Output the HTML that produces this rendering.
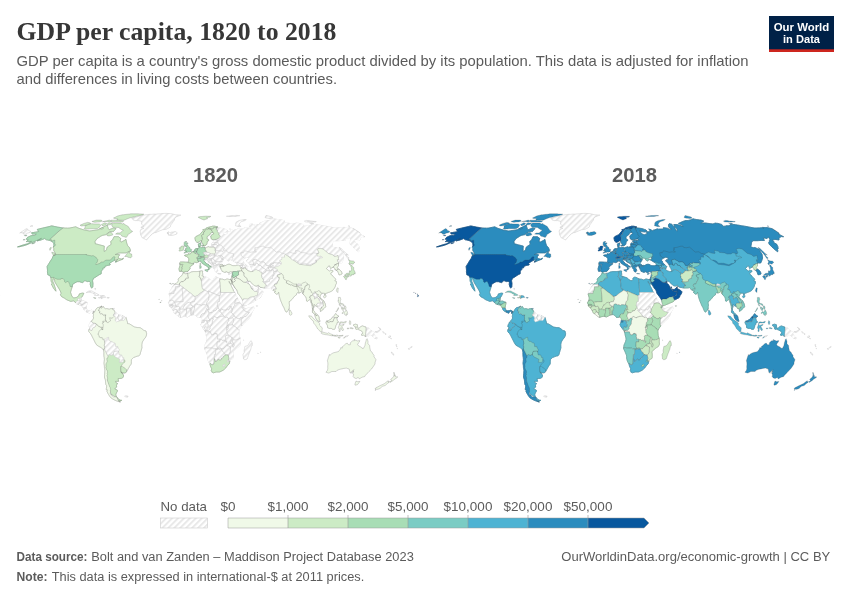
<!DOCTYPE html>
<html lang="en">
<head>
<meta charset="utf-8">
<title>GDP per capita, 1820 to 2018</title>
<style>
html,body{margin:0;padding:0;background:#fff;}
body{width:850px;height:600px;overflow:hidden;position:relative;font-family:"Liberation Sans",sans-serif;}
svg{position:absolute;left:0;top:0;display:block;}
text{font-family:"Liberation Sans",sans-serif;}
.title{font-family:"Liberation Serif",serif;font-weight:bold;font-size:26px;fill:#373737;}
.sub{font-size:14.5px;fill:#5b5b5b;}
.foot{font-size:12.5px;fill:#5b5b5b;}
.leg{font-size:13px;fill:#5b5b5b;}
.yr{font-size:20.3px;font-weight:bold;fill:#5b5b5b;}
.logo{font-size:11.5px;font-weight:bold;fill:#fff;}
.c use{stroke:#3c3c3c;stroke-width:0.5;stroke-opacity:0.4;stroke-linejoin:round;}
.c use.n{fill:url(#hatch);stroke:#c8c8c8;stroke-width:0.5;stroke-opacity:1;}
</style>
</head>
<body>
<svg width="850" height="600" viewBox="0 0 850 600">
<defs>
<pattern id="hatch" patternUnits="userSpaceOnUse" width="4.2" height="4.2" patternTransform="rotate(45)">
<rect width="4.2" height="4.2" fill="#fff"/>
<rect x="0" y="0" width="1.9" height="4.2" fill="#e8e8e8"/>
</pattern>
<path id="L" d="M179.5,271.3L179.0,268.9L179.5,267.1L180.0,265.4L179.5,262.9L180.6,262.0L182.0,262.0L183.5,262.0L184.6,262.1L185.7,262.2L188.0,262.3L188.3,262.0L188.7,260.6L188.8,259.2L188.7,258.4L187.6,257.0L186.1,256.3L184.8,255.9L184.7,255.2L186.7,254.8L187.8,255.1L188.3,253.7L188.6,253.6L188.8,254.1L190.1,253.9L191.1,253.3L191.9,251.9L192.7,251.7L193.8,251.3L194.5,250.3L195.1,249.1L196.3,248.6L197.4,248.6L198.4,248.3L199.2,247.9L199.0,247.2L198.7,246.4L198.5,245.7L198.3,244.4L198.8,243.6L199.8,243.2L200.8,242.8L200.8,243.8L200.6,244.8L200.2,245.7L199.9,246.4L200.2,246.7L200.7,247.2L201.5,247.7L202.6,247.5L204.1,247.1L205.1,247.9L206.8,247.3L207.8,247.0L208.8,246.7L209.6,247.2L210.9,246.8L211.8,246.0L211.9,245.5L211.6,244.4L212.0,243.2L213.0,242.8L214.6,243.8L214.8,241.9L213.7,241.5L213.6,240.9L214.9,240.5L216.5,240.5L218.1,240.5L219.1,240.2L220.2,240.0L218.4,238.9L216.8,239.2L215.9,239.4L214.9,239.6L213.9,239.8L213.0,240.1L212.1,239.3L211.0,238.5L211.1,237.9L210.8,235.9L212.1,234.7L213.1,234.1L214.1,233.5L212.8,232.5L211.9,232.6L210.9,232.7L210.2,233.8L209.5,235.0L207.9,236.0L207.0,236.7L207.0,238.9L208.8,239.8L208.6,240.7L207.2,241.6L207.0,243.1L206.8,244.3L206.1,244.9L204.9,245.7L203.5,245.9L203.1,245.1L203.2,244.1L202.1,242.8L201.3,241.3L200.7,240.7L199.6,241.4L198.1,242.3L197.1,242.4L195.6,241.1L195.2,239.3L194.9,237.9L195.8,236.6L197.0,236.0L198.2,235.4L199.6,234.7L200.9,233.5L201.7,232.2L203.3,230.6L202.8,229.6L204.0,229.4L205.1,229.2L205.9,228.5L206.7,227.8L207.7,227.5L208.8,227.2L210.0,226.9L211.1,226.6L212.0,226.4L212.8,226.1L213.8,226.2L214.8,226.2L216.3,226.6L217.7,226.9L216.9,227.2L216.0,227.4L217.0,227.6L218.4,227.9L219.8,228.1L221.2,228.3L222.7,228.5L224.0,228.9L225.4,229.4L226.7,229.8L228.1,231.0L228.3,231.6L226.9,231.8L225.6,232.0L224.1,231.8L222.7,231.6L221.4,231.3L220.2,230.9L222.0,232.5L223.2,234.1L224.3,234.4L225.5,234.7L226.3,234.3L227.2,234.2L228.1,234.0L227.6,232.5L228.5,232.1L229.3,231.7L230.2,231.7L231.1,231.6L230.7,229.8L229.7,229.1L231.0,229.4L232.3,229.8L233.2,231.0L234.2,230.2L235.1,230.0L235.9,229.8L237.1,229.3L238.2,228.8L239.3,229.2L240.7,229.1L242.0,229.1L243.3,229.0L244.6,228.8L244.4,227.6L245.7,227.8L247.1,228.0L248.4,228.2L249.6,228.8L250.9,229.4L251.7,229.3L252.6,229.2L250.5,228.0L249.4,226.2L249.6,224.5L250.3,223.6L251.5,223.9L252.8,224.2L253.9,225.7L254.9,226.8L255.9,228.0L256.6,229.8L257.9,231.3L258.3,230.4L257.7,228.6L255.6,226.8L255.2,225.7L254.8,224.5L255.9,224.5L257.0,224.5L257.9,224.6L258.9,224.7L260.0,225.0L261.1,225.3L262.6,226.1L264.1,226.8L263.3,225.3L261.4,224.3L259.5,223.4L260.5,222.9L261.4,222.5L262.3,222.1L263.2,221.7L264.2,221.3L265.2,221.0L266.2,220.6L267.3,220.5L268.3,220.5L269.3,220.4L270.2,220.2L271.0,220.0L271.9,219.8L272.6,219.4L273.4,219.1L274.2,218.8L275.7,219.2L277.3,219.5L278.9,219.7L280.5,219.9L282.1,220.1L284.7,221.1L284.0,221.7L283.2,222.2L282.5,222.8L281.9,223.4L283.0,223.2L284.1,223.0L285.3,223.0L286.6,223.0L288.4,223.3L290.1,223.5L291.9,223.7L293.7,223.9L294.5,223.7L295.4,223.4L296.2,223.1L297.6,223.3L299.0,223.4L300.8,223.9L302.7,224.5L304.4,226.2L305.3,226.2L306.2,226.2L306.7,225.9L307.2,225.7L308.5,225.7L309.8,225.7L310.6,225.3L311.4,224.8L311.7,224.2L313.3,224.4L314.9,224.5L316.5,224.7L318.4,225.0L320.3,225.3L322.2,225.7L323.9,225.9L325.7,226.2L327.8,226.6L329.9,227.0L332.0,227.4L334.1,227.8L335.8,228.0L337.3,228.0L338.7,227.9L340.2,227.9L341.7,227.8L343.1,227.8L344.8,228.6L343.5,227.4L345.1,227.5L346.7,227.6L348.4,227.6L350.0,228.0L351.8,228.3L353.5,228.6L356.9,230.8L360.3,233.1L359.9,233.5L359.5,233.8L359.0,233.8L362.1,235.4L364.7,236.7L363.5,236.7L362.3,236.6L361.5,237.1L360.6,237.5L360.3,238.0L360.0,238.5L360.0,240.0L358.1,239.7L356.1,239.4L355.4,239.6L354.6,239.8L353.4,240.1L354.9,241.8L354.9,242.7L357.6,244.1L358.1,245.1L358.8,246.4L359.2,248.7L358.2,249.1L358.8,250.4L358.7,251.8L356.0,249.8L354.5,248.4L353.0,247.1L351.7,245.7L350.3,244.4L349.6,242.7L350.3,241.8L350.4,240.5L350.9,239.4L350.2,238.2L349.5,236.9L348.8,237.7L348.1,238.5L346.2,238.2L344.2,237.8L344.8,239.1L345.4,240.5L344.0,240.5L342.6,240.5L341.1,240.5L339.9,240.6L338.6,240.7L337.1,240.7L335.6,240.7L333.8,240.7L333.2,241.7L332.5,242.7L332.4,243.9L332.2,245.1L332.0,245.9L331.7,246.8L333.1,247.3L334.6,247.7L335.9,247.5L338.7,248.8L339.8,249.1L341.1,250.4L341.0,251.1L342.1,252.8L343.1,254.5L343.4,256.3L343.6,258.0L343.2,259.4L342.7,260.8L342.3,261.8L341.8,262.9L340.8,263.1L339.3,262.7L338.6,263.8L338.3,265.0L338.7,265.9L337.9,266.6L337.0,267.3L337.2,268.2L338.8,269.0L341.1,271.3L341.9,272.7L342.0,274.0L340.4,274.7L339.0,274.8L338.3,272.7L337.8,271.3L336.1,270.3L335.1,269.9L335.0,268.5L333.3,267.2L331.9,267.6L330.7,268.7L330.1,267.1L329.9,266.1L328.7,265.8L327.8,267.2L326.3,268.5L328.5,270.4L329.5,271.1L330.5,270.2L331.4,270.4L332.9,270.7L333.0,271.6L332.1,272.1L331.2,272.7L330.5,274.1L332.1,275.1L333.5,276.9L335.4,278.8L335.7,279.8L334.7,280.8L336.3,281.3L336.5,283.3L335.9,284.1L335.1,286.8L333.8,289.0L332.4,290.7L331.0,291.4L329.5,292.1L328.7,292.3L326.8,293.1L325.3,293.6L325.3,294.9L324.6,294.8L324.4,293.2L323.4,293.2L322.2,293.2L320.9,294.3L320.0,296.3L320.1,297.2L321.2,298.6L322.9,300.3L323.7,300.8L324.9,303.1L325.5,305.2L325.7,306.8L324.5,308.0L323.1,309.0L322.7,310.0L320.4,311.4L320.4,309.6L319.9,308.9L318.6,308.6L317.9,307.3L317.3,306.6L315.2,305.6L314.5,304.5L313.9,304.8L314.1,306.6L313.4,308.3L313.5,310.4L314.5,311.6L315.3,313.4L316.7,314.0L317.5,314.8L319.0,316.8L319.1,318.7L319.6,320.1L320.1,321.6L319.6,321.8L319.1,321.6L317.6,320.5L316.5,319.4L315.5,317.7L315.1,316.0L314.9,314.5L314.2,313.8L313.6,313.0L312.4,312.4L312.3,310.9L312.6,309.5L312.3,307.3L312.2,306.1L311.5,303.8L310.7,301.7L310.4,300.3L309.9,299.6L308.7,300.1L307.7,301.3L306.5,301.0L306.4,298.9L305.9,297.0L304.0,295.2L302.6,293.3L302.2,292.1L301.4,291.6L300.6,292.5L299.5,292.8L298.3,292.9L297.6,292.6L296.8,293.2L296.5,294.3L296.3,295.0L295.3,295.6L294.4,296.3L292.6,298.6L291.5,299.7L290.3,301.1L289.1,301.7L289.2,303.8L289.5,305.1L289.2,306.6L289.2,309.0L288.6,309.0L288.3,310.4L287.3,311.0L286.6,312.2L285.7,311.6L284.7,309.5L284.1,307.8L282.7,305.4L282.0,303.6L281.2,301.8L280.4,299.6L279.9,298.1L279.5,296.7L279.1,294.6L279.0,293.8L278.7,292.2L278.3,292.9L277.6,294.0L277.0,294.3L276.1,294.0L275.1,293.1L274.3,292.1L275.8,291.2L273.9,290.8L273.1,290.1L272.2,289.8L271.5,288.5L270.7,287.7L268.5,288.0L267.1,288.0L265.7,288.1L264.8,288.0L263.6,287.8L261.9,287.5L260.1,287.3L259.0,285.7L258.1,285.1L256.4,286.1L254.8,285.8L253.4,284.7L251.1,282.7L250.1,281.2L248.6,281.2L247.7,282.0L248.3,283.3L249.6,285.0L250.1,285.4L250.8,286.3L250.9,287.4L251.8,288.7L251.7,287.5L252.1,286.7L252.6,287.0L252.7,288.5L252.4,289.2L253.9,289.4L255.1,289.5L256.2,289.0L257.2,287.8L257.9,287.1L258.2,286.4L258.5,288.1L259.0,289.1L261.4,290.2L263.0,291.8L262.6,293.3L261.8,294.8L260.8,295.7L260.9,296.9L259.6,298.1L258.0,298.7L256.7,299.6L255.4,300.1L254.5,301.5L253.1,302.2L250.8,303.1L249.3,303.8L247.0,304.7L245.8,305.5L243.9,305.6L243.5,304.8L243.1,302.7L242.7,300.6L242.4,299.7L241.5,298.3L240.6,296.9L239.1,294.9L237.8,293.2L237.4,291.6L236.9,289.9L236.3,289.5L235.2,288.2L234.2,286.6L232.9,284.6L232.0,284.0L232.0,281.9L230.8,279.3L231.3,278.3L231.6,277.2L232.0,275.7L232.2,274.8L232.1,273.4L232.3,271.8L230.9,271.7L230.4,271.6L228.5,272.7L227.2,272.1L225.9,271.4L225.6,272.3L224.2,272.3L223.1,271.6L222.0,271.3L221.7,270.0L221.1,269.3L221.0,268.0L220.1,267.8L220.2,267.1L221.6,266.5L223.3,266.5L224.3,266.1L223.3,265.7L224.3,265.4L225.9,265.5L226.3,265.0L227.9,264.3L230.0,264.3L231.5,265.2L232.9,265.7L234.2,265.7L235.5,265.7L237.5,264.8L237.5,264.0L236.4,262.9L234.8,262.0L232.4,260.5L231.0,259.7L231.8,259.5L232.3,258.7L232.4,257.7L233.4,257.0L233.0,257.0L231.4,257.2L230.8,257.7L229.2,258.3L228.7,258.4L229.3,259.4L230.8,259.5L229.6,260.1L228.4,260.9L227.6,260.6L226.3,259.5L227.5,258.5L225.8,258.5L224.9,257.9L224.1,258.0L223.2,259.8L222.3,261.2L221.6,262.6L221.2,263.6L221.9,264.4L223.2,265.2L223.1,265.7L221.5,265.7L220.1,266.9L219.8,266.2L219.7,265.9L218.0,265.8L217.6,267.1L216.4,266.6L216.3,266.2L216.0,267.1L216.6,268.0L217.0,268.9L217.6,270.0L217.9,270.3L217.0,270.0L217.1,270.9L217.0,272.0L216.3,272.0L215.4,271.6L214.8,270.3L215.2,269.5L214.5,269.3L213.9,268.5L213.2,267.5L213.0,267.2L212.3,266.4L212.2,265.2L212.1,264.4L211.7,264.1L211.0,263.7L210.6,263.4L208.5,262.2L207.1,261.3L206.7,260.1L206.1,259.7L205.5,260.3L205.2,259.4L205.4,259.1L203.7,259.5L204.0,260.2L203.8,260.9L204.2,261.3L205.2,262.0L206.1,263.6L207.3,264.0L208.5,264.4L208.3,265.1L209.3,265.5L210.7,266.2L211.3,266.9L211.2,267.3L210.7,267.1L209.8,266.4L209.1,267.5L209.8,268.3L209.1,269.3L208.6,270.0L208.1,269.7L208.3,268.9L208.7,268.0L208.0,267.1L207.0,266.2L206.3,265.9L205.6,265.4L203.9,264.5L203.4,264.1L202.5,263.6L201.9,262.9L201.6,262.2L201.0,261.3L200.0,260.9L199.6,261.0L199.0,261.6L198.2,261.9L196.7,262.7L196.1,262.4L195.2,262.3L194.4,262.2L193.5,262.9L193.4,263.6L193.8,263.8L192.5,265.1L191.4,265.5L191.0,266.1L189.7,267.8L190.2,268.9L189.4,269.5L188.8,270.4L187.4,271.7L187.1,271.6L184.9,271.7L183.8,272.6L183.4,272.7L182.6,272.0L181.8,271.0L180.8,271.3ZM183.1,273.0L183.8,272.8L185.3,273.8L186.6,273.7L187.9,273.4L189.3,273.1L191.2,272.0L192.4,271.8L193.6,271.6L196.0,271.6L197.5,271.5L199.1,271.4L200.3,271.1L201.5,270.9L202.8,271.1L202.4,272.1L202.6,273.0L202.7,274.5L201.9,275.7L203.0,276.1L204.3,276.6L205.7,277.1L208.0,277.8L209.8,279.5L211.6,280.5L213.0,280.8L213.9,279.8L213.9,278.2L215.5,277.1L216.8,277.2L218.6,278.2L220.1,278.9L221.3,279.1L222.5,279.2L224.6,279.9L225.7,279.5L227.0,278.9L228.6,279.3L230.0,279.6L230.8,279.3L231.9,281.9L231.8,282.9L231.4,284.3L230.5,283.6L229.7,282.6L229.0,281.2L229.3,282.6L230.9,285.1L231.6,286.7L232.4,288.2L233.2,289.7L233.4,291.1L234.7,292.2L235.6,293.9L235.7,295.9L236.0,296.6L237.4,298.1L238.1,300.3L238.8,301.5L240.1,302.7L241.6,304.1L242.9,305.2L243.7,306.1L243.6,307.2L244.0,307.6L245.9,308.9L247.2,308.4L248.4,307.9L249.7,307.8L251.1,307.6L252.4,307.3L253.7,306.9L253.9,308.9L253.2,310.2L252.0,312.3L251.1,314.4L250.5,316.1L248.7,318.7L246.6,320.8L245.0,322.2L243.1,324.2L242.0,326.0L241.1,326.9L240.1,328.1L239.5,329.4L238.8,330.8L239.0,333.2L239.2,335.6L240.0,338.2L240.4,338.7L240.3,340.4L240.2,342.0L240.5,344.1L239.3,346.5L237.4,347.7L235.6,348.9L234.6,350.2L232.8,351.6L233.2,354.0L233.2,355.7L233.2,357.4L232.9,358.4L231.4,359.3L229.9,360.2L229.8,361.6L229.2,363.8L227.2,365.9L225.8,367.9L224.5,369.1L223.1,370.3L221.7,371.0L220.3,371.7L219.3,372.0L217.7,372.0L216.1,372.0L214.8,372.4L213.6,372.8L211.8,372.1L211.8,371.5L211.2,370.3L211.8,368.9L210.7,366.7L209.9,364.0L209.1,362.6L208.4,361.2L208.0,359.7L207.6,358.2L207.7,356.0L207.1,354.3L206.4,352.6L205.8,351.2L205.1,349.8L204.5,348.1L204.8,346.6L205.0,345.1L205.8,343.3L206.6,341.4L207.1,339.2L206.8,337.6L206.4,336.0L205.9,333.5L205.3,332.1L205.2,331.4L204.7,330.4L203.7,329.0L202.0,326.9L200.9,324.6L201.7,323.0L202.0,322.0L202.2,320.9L202.4,319.5L202.0,318.1L201.1,317.2L200.4,317.1L198.7,317.4L197.5,317.5L196.6,316.1L194.2,314.5L193.0,314.7L191.5,315.0L189.8,315.8L187.4,317.0L185.0,316.2L183.8,316.5L182.5,316.7L180.4,317.4L178.8,316.5L176.5,314.7L175.7,313.8L174.4,313.1L173.6,311.6L173.0,310.2L171.9,308.8L170.6,306.9L169.3,306.1L169.4,304.7L168.4,302.8L169.6,301.0L170.0,299.5L170.3,298.0L169.7,296.2L169.2,294.2L169.3,293.5L170.0,291.8L170.6,290.1L171.9,288.7L172.4,286.7L173.8,285.1L174.4,284.1L176.1,283.6L177.7,282.0L178.5,280.6L178.2,280.3L178.3,279.1L179.1,277.9L181.0,276.1L182.0,275.5L182.7,273.8ZM31.6,232.7L33.4,232.5L35.2,232.2L36.9,231.9L38.7,231.6L38.2,230.9L37.8,230.2L37.3,229.4L39.7,228.8L42.2,228.2L44.6,227.6L47.0,227.1L49.4,226.5L51.7,225.9L52.9,226.1L54.1,226.4L55.3,226.6L56.4,226.8L57.6,227.1L58.9,227.3L60.2,227.5L61.5,227.7L62.8,227.9L64.1,228.0L65.3,228.1L66.6,228.1L67.8,228.2L68.9,228.1L69.9,228.0L71.9,227.6L73.8,227.2L75.8,226.8L76.5,227.2L77.3,227.6L78.0,228.0L79.2,228.4L80.4,228.8L81.7,229.2L82.9,229.6L84.1,230.0L85.5,230.3L86.9,230.5L88.3,230.8L89.7,231.0L91.4,230.8L93.1,230.5L94.8,230.3L96.5,230.0L98.2,229.8L101.2,228.2L104.2,226.6L107.3,225.1L107.5,226.2L107.9,227.4L108.3,228.6L108.7,229.2L109.2,229.8L111.2,228.9L113.3,228.0L114.6,228.3L116.0,228.6L114.7,230.1L113.4,231.6L112.2,231.6L110.9,231.6L109.7,231.6L107.7,233.2L105.6,234.7L104.0,235.0L102.3,235.4L100.7,236.2L98.9,237.4L97.1,238.5L96.0,240.0L95.0,241.4L95.2,243.8L96.7,244.1L98.2,244.5L99.7,244.9L101.2,245.3L102.8,245.7L104.3,246.1L104.1,248.8L104.1,251.4L105.3,251.1L106.5,249.8L106.8,248.4L107.3,247.1L109.2,245.7L111.2,244.4L111.0,243.0L110.7,241.5L112.7,239.8L113.3,238.3L114.0,236.7L115.4,236.7L116.9,236.7L118.4,236.7L119.6,237.6L120.8,238.5L120.4,239.8L120.0,241.1L121.0,242.2L122.7,241.3L124.3,240.5L125.9,239.3L126.3,241.2L126.7,243.1L127.2,244.4L127.7,245.7L128.6,246.7L129.5,247.7L130.0,249.1L130.5,250.4L128.3,251.7L126.1,252.9L124.3,252.9L122.5,252.9L120.7,252.9L119.3,253.0L117.9,253.2L116.6,253.9L115.2,254.5L116.6,254.5L118.0,254.5L119.7,254.8L118.4,256.6L118.3,258.4L120.1,258.8L122.0,259.2L123.4,258.0L123.1,259.1L120.9,259.9L118.7,260.8L117.1,261.5L115.4,262.2L115.9,260.8L118.0,259.4L116.5,259.7L115.0,260.1L113.6,260.8L112.3,261.5L110.1,262.9L109.3,263.8L110.3,264.3L110.0,265.0L108.8,265.2L107.6,265.4L106.4,265.8L105.1,266.2L104.6,267.8L102.8,268.0L103.0,269.2L101.3,271.1L101.2,273.8L99.1,274.8L97.7,275.7L95.1,277.4L93.5,278.3L92.5,280.8L93.0,283.3L92.9,285.2L92.8,287.1L91.7,288.1L90.8,286.8L90.2,284.3L90.4,282.6L89.3,281.2L87.4,281.6L85.5,280.8L84.6,280.8L82.7,282.6L81.2,282.3L79.5,281.7L78.3,281.7L77.1,281.7L76.1,282.2L74.4,283.2L72.7,284.3L72.1,287.0L71.3,289.6L70.5,292.2L71.2,294.3L71.9,296.4L73.8,298.0L75.3,297.7L76.8,297.3L78.9,295.6L79.3,293.9L80.8,293.5L82.3,293.1L83.8,293.3L82.5,296.0L81.5,297.6L81.0,300.3L80.2,301.3L82.0,301.2L83.8,301.1L85.4,301.8L87.1,302.4L86.8,304.2L86.4,305.9L86.0,308.0L86.8,309.5L88.0,310.9L89.2,310.7L90.5,310.6L91.7,310.2L93.7,311.3L92.9,313.4L92.3,311.6L91.1,311.0L89.7,313.3L88.5,312.7L86.7,312.0L85.8,311.6L84.0,309.9L83.4,308.2L82.5,306.8L81.5,305.4L80.3,305.0L79.1,304.7L77.9,304.2L76.7,303.8L75.9,303.1L73.9,300.8L72.4,301.1L70.8,301.4L68.8,300.6L66.8,299.8L65.6,299.0L64.4,298.1L63.0,297.4L61.6,296.6L60.4,294.8L61.2,293.2L60.2,290.8L58.7,288.2L57.4,286.1L56.1,284.0L54.9,281.9L54.5,279.3L53.2,278.6L52.7,281.2L53.3,282.6L53.9,284.0L54.4,285.4L54.8,286.8L55.6,289.0L55.9,291.2L54.8,289.9L53.8,288.7L52.9,287.0L52.1,285.4L51.3,284.0L52.4,283.3L51.1,281.2L51.0,278.6L50.8,277.6L49.9,275.5L48.9,275.2L47.8,274.8L47.6,273.3L47.4,271.8L47.5,270.2L47.3,268.3L47.1,266.5L48.2,264.7L49.3,262.9L50.7,260.6L52.2,258.4L52.8,256.9L53.4,255.4L55.8,254.1L55.0,252.5L54.4,251.5L53.8,250.4L53.8,248.4L53.3,247.3L53.9,245.7L53.8,244.4L53.7,243.1L53.1,242.4L52.4,241.8L51.2,241.1L50.0,240.5L48.8,240.3L47.6,240.0L46.4,239.8L45.5,239.2L44.8,238.5L42.6,239.4L40.4,240.2L38.8,240.5L37.2,240.9L39.4,239.6L41.6,238.3L39.1,239.4L36.6,240.5L33.7,241.8L30.7,243.1L28.0,244.2L25.3,245.3L23.4,245.8L21.6,246.2L19.7,246.7L17.5,246.9L19.9,246.1L22.2,245.3L24.8,244.5L27.5,243.8L31.6,241.4L30.0,241.5L28.4,241.5L27.3,241.6L26.3,241.6L28.4,239.8L27.3,239.5L26.2,239.2L27.6,237.3L31.0,235.7L32.9,235.5L34.8,235.4L36.4,234.1L35.0,234.1L33.6,234.1L32.2,234.1L31.9,233.4ZM93.7,311.3L94.4,312.3L95.1,310.9L96.2,308.9L97.1,307.9L97.9,307.6L99.5,307.2L101.6,306.1L101.5,306.9L100.7,307.2L101.0,308.2L101.8,308.0L102.8,307.2L103.1,306.3L103.5,307.3L105.5,308.8L106.9,308.6L109.2,309.3L110.2,308.8L111.6,308.6L113.0,308.5L112.3,309.2L114.1,310.2L114.7,311.6L116.1,312.8L117.5,314.0L118.9,315.1L121.2,315.3L123.0,316.0L124.8,316.7L125.6,317.7L126.1,317.4L126.5,319.1L126.9,320.8L127.5,322.2L127.5,323.6L129.4,323.9L130.3,324.4L132.5,325.8L134.7,327.1L136.1,327.3L137.6,327.6L138.8,327.6L140.1,327.7L141.9,328.8L143.8,330.4L146.0,331.0L146.6,333.6L146.5,335.1L145.6,337.3L144.0,339.2L143.2,340.6L142.3,342.0L141.8,344.5L141.8,346.1L141.9,347.6L141.7,348.6L141.1,350.5L140.6,352.3L139.9,354.7L138.7,356.0L137.3,356.1L135.4,356.8L133.6,357.5L132.5,358.6L131.4,359.7L131.3,361.1L131.3,362.6L131.2,364.0L129.7,366.0L128.8,367.7L128.0,369.1L126.8,371.3L125.3,373.0L123.8,373.0L121.8,372.4L121.0,371.7L121.1,372.5L122.8,373.8L122.9,374.8L123.6,375.1L123.2,377.3L121.6,378.3L119.8,378.5L118.0,378.6L118.3,380.1L118.6,381.3L117.0,381.3L115.5,381.3L116.0,382.9L117.7,383.6L116.9,384.2L116.4,385.0L116.7,387.1L115.8,387.8L114.8,388.4L115.1,389.2L117.2,390.0L117.5,391.0L116.4,392.9L115.8,394.3L116.1,396.2L117.1,397.2L117.6,398.1L118.7,399.2L120.3,400.1L121.8,400.3L120.7,400.9L119.7,401.0L118.7,401.2L120.3,402.0L119.0,401.7L117.8,401.3L116.5,400.8L115.2,400.3L113.1,399.2L110.9,397.8L109.6,396.1L108.7,394.7L107.9,393.3L106.8,391.0L107.6,389.9L106.2,389.5L106.6,387.1L106.7,385.7L106.0,384.8L105.6,382.7L105.5,381.5L105.4,379.9L104.5,377.3L104.5,375.6L104.7,373.8L104.8,372.0L104.9,370.3L104.7,368.9L104.4,367.4L104.4,365.9L104.0,363.2L104.2,361.8L104.4,359.5L104.2,357.0L104.0,356.3L103.9,354.2L103.9,352.2L103.5,349.8L102.2,348.5L101.1,347.6L98.6,346.2L96.9,345.2L95.5,343.1L94.3,340.7L93.3,338.7L92.2,336.5L91.5,335.1L90.4,333.4L88.9,331.9L88.7,330.8L88.6,330.2L89.5,328.5L90.2,327.4L89.7,327.3L88.8,326.7L89.1,324.9L89.9,323.6L90.4,322.2L91.6,321.1L92.6,319.9L93.6,318.1L93.3,316.5L93.4,315.8L93.5,314.4L92.9,313.4ZM326.9,320.6L327.8,321.2L329.1,320.2L331.1,319.1L332.2,317.4L333.4,316.5L334.6,315.1L335.5,313.7L336.7,314.5L337.3,315.4L338.7,316.1L337.6,317.4L337.1,317.7L336.8,318.7L337.4,320.5L338.6,322.2L337.1,322.5L336.8,324.3L335.9,325.4L335.5,327.1L335.0,328.5L334.6,329.3L332.9,329.4L331.1,328.3L329.6,328.5L327.6,327.7L327.4,325.4L326.4,323.6L326.0,322.2ZM353.6,324.7L355.5,324.2L357.4,324.7L357.6,327.1L357.9,328.3L359.2,328.3L360.5,326.7L362.4,325.9L364.0,326.5L365.7,327.1L366.1,327.3L367.7,327.9L369.3,328.5L370.6,329.8L371.9,331.0L373.1,331.8L374.4,332.7L373.2,333.1L374.3,334.9L375.4,336.3L376.5,337.7L377.6,338.2L376.4,338.7L374.6,338.0L373.1,337.0L371.8,335.3L370.0,334.5L368.7,335.3L368.2,336.5L366.8,336.5L365.4,336.5L363.7,335.1L361.8,335.5L361.5,334.1L363.0,333.2L362.1,331.4L360.9,330.7L359.7,330.1L358.5,329.6L357.2,329.1L356.0,329.4L355.2,327.7L356.7,327.1L354.8,326.6L353.5,325.6ZM243.0,259.1L243.4,258.7L244.9,258.0L246.4,257.3L247.5,257.4L248.7,257.6L249.4,259.7L247.5,259.7L247.3,260.8L246.5,260.8L247.8,262.0L249.0,263.1L250.2,265.0L251.0,267.1L251.9,268.5L252.7,270.6L253.0,271.3L251.9,271.5L250.8,271.7L248.7,271.0L247.7,270.6L246.7,269.3L247.0,268.0L247.9,266.5L246.8,266.1L245.7,264.5L245.0,264.1L243.8,262.9L243.4,261.2L242.5,260.5Z" fill-rule="evenodd"/>
<path id="c0" d="M71.4,221.7L73.1,221.7L74.8,221.7L76.4,221.7L78.1,221.7L79.7,221.7L81.4,221.7L83.1,221.7L84.7,221.7L86.4,221.7L88.1,221.7L89.7,221.7L91.4,221.7L93.1,221.7L94.7,221.7L96.4,221.7L98.0,221.7L99.7,221.7L101.4,221.7L103.0,221.7L104.7,221.7L106.4,221.7L108.0,221.7L109.7,221.7L111.4,221.7L113.0,221.7L114.7,221.7L116.3,221.7L118.0,221.7L119.7,221.7L121.3,221.7L123.0,221.7L124.7,221.7L126.3,221.7L128.0,221.7L129.7,221.7L131.3,221.7L133.0,221.7L134.6,221.7L136.3,221.7L138.0,221.7L139.6,221.7L141.3,221.7L143.0,221.7L144.6,221.7L146.3,221.7L148.0,221.7L146.8,223.9L145.7,226.1L144.7,228.4L143.7,230.7L142.7,233.1L141.7,235.6L140.8,238.0L139.9,240.5L139.0,243.1L138.1,245.7L137.2,248.3L136.4,250.9L135.7,253.5L135.0,256.2L134.3,258.9L133.7,261.6L133.0,264.3L132.4,267.1L130.2,267.1L127.9,267.1L125.6,267.1L123.3,267.1L121.1,267.1L118.8,267.1L116.5,267.1L114.2,267.1L111.9,267.1L109.7,267.1L107.4,267.1L105.1,267.1L102.8,267.1L100.6,267.1L98.3,267.1L96.0,267.1L93.7,267.1L91.4,267.1L89.2,267.1L86.9,267.1L84.6,267.1L82.3,267.1L80.1,267.1L77.8,267.1L75.5,267.1L73.2,267.1L71.0,267.1L68.7,267.1L66.4,267.1L64.1,267.1L61.8,267.1L59.6,267.1L57.3,267.1L55.0,267.1L52.7,267.1L50.5,267.1L48.2,267.1L45.9,267.1L43.6,267.1L41.3,267.1L39.1,267.1L36.8,267.1L34.5,267.1L32.2,267.1L30.0,267.1L27.7,267.1L29.3,264.3L31.1,261.6L32.9,258.9L34.9,256.2L36.8,253.5L39.0,250.9L41.2,248.3L43.6,245.7L46.1,243.1L48.6,240.5L51.2,238.0L53.9,235.6L56.6,233.1L59.4,230.7L62.2,228.4L65.1,226.1L68.2,223.9Z"/>
<path id="c1" d="M53.3,255.2L55.1,255.4L55.4,254.5L57.5,254.5L59.5,254.5L61.6,254.5L63.6,254.5L65.6,254.5L67.7,254.5L69.7,254.5L71.8,254.5L73.8,254.5L75.9,254.5L77.9,254.5L80.0,254.5L82.0,254.5L84.0,254.5L86.1,254.5L86.4,254.0L86.5,255.0L87.8,255.2L89.1,255.5L90.1,255.6L91.2,255.8L91.7,255.9L93.1,255.5L94.6,256.5L96.1,257.4L96.3,258.0L97.0,258.5L97.8,259.7L97.3,262.0L96.7,262.9L95.4,264.0L96.0,264.7L97.8,264.0L99.1,263.6L100.4,263.1L100.7,262.4L101.2,262.0L103.3,262.0L104.2,261.2L106.0,260.1L108.0,260.1L110.0,260.1L110.9,259.5L111.8,258.7L112.4,257.7L113.7,256.7L114.6,256.8L115.1,257.2L114.4,259.1L114.6,259.8L114.9,260.3L115.8,260.9L116.8,261.5L116.0,264.0L115.3,266.5L114.6,269.1L114.0,271.7L113.4,274.2L112.9,276.8L112.4,279.4L111.9,281.9L111.5,284.5L111.2,287.1L110.8,289.7L108.5,289.7L106.1,289.7L103.7,289.7L101.4,289.7L99.0,289.7L96.7,289.7L94.3,289.7L91.9,289.7L89.6,289.7L87.2,289.7L84.8,289.7L82.5,289.7L80.1,289.7L77.7,289.7L75.4,289.7L73.0,289.7L70.7,289.7L68.6,288.9L66.5,288.1L64.4,287.3L62.4,286.6L60.4,285.8L58.4,285.0L56.4,284.3L54.4,283.5L52.4,282.7L50.4,281.9L48.5,281.2L46.5,280.6L44.6,280.0L42.6,279.5L40.7,278.9L38.7,278.3L39.7,275.8L40.9,273.2L42.0,270.6L43.3,268.0L44.7,265.4L46.1,262.9L47.7,260.3L49.3,257.8L50.9,255.2L52.1,255.2ZM66.5,225.1L63.5,227.3L60.6,229.7L57.8,232.1L55.1,234.5L52.4,236.9L49.7,239.4L51.4,239.7L51.4,241.3L53.2,240.5L54.9,240.2L54.6,241.1L54.9,241.9L54.7,243.8L55.6,244.9L54.7,246.0L53.9,246.8L51.5,247.3L49.1,247.7L46.8,248.0L44.6,248.3L42.4,248.6L40.1,248.8L37.9,249.1L35.6,249.4L33.4,249.6L31.1,249.9L28.8,250.2L26.5,250.4L24.3,250.7L22.0,251.0L19.7,251.3L17.4,251.5L15.1,251.8L12.8,252.1L10.5,252.3L8.2,252.6L5.9,252.9L3.5,253.2L6.0,250.7L8.6,248.2L11.3,245.7L14.2,243.3L17.1,240.9L20.0,238.5L23.1,236.2L26.2,233.9L29.4,231.6L32.6,229.4L35.9,227.2L39.4,225.1L41.1,225.1L42.8,225.1L44.5,225.1L46.2,225.1L47.9,225.1L49.6,225.1L51.3,225.1L53.0,225.1L54.7,225.1L56.4,225.1L58.1,225.1L59.8,225.1L61.5,225.1L63.1,225.1L64.8,225.1Z"/>
<path id="c2" d="M50.8,277.6L52.2,277.5L53.7,277.4L53.5,277.6L55.5,278.5L57.5,279.3L59.1,279.3L60.8,279.3L61.0,278.6L63.1,278.6L64.4,280.2L64.5,281.7L65.8,282.7L67.0,281.5L68.2,281.5L68.7,282.2L69.0,283.0L69.8,284.7L70.0,286.3L71.0,286.7L72.2,286.9L73.6,286.8L75.8,286.8L78.0,286.8L80.3,286.8L82.5,286.8L84.7,286.8L86.9,286.8L86.5,289.3L86.2,291.7L85.9,294.1L85.6,296.5L85.3,299.0L85.0,301.4L84.8,303.8L82.6,304.3L80.5,304.7L78.4,305.2L76.3,305.7L74.2,306.2L72.1,306.6L69.8,305.8L67.5,305.0L65.2,304.2L62.9,303.4L60.6,302.6L58.3,301.8L56.0,301.0L53.7,300.2L51.5,299.4L49.2,298.6L47.0,297.7L44.8,296.9L42.5,296.1L40.3,295.3L40.8,292.8L41.3,290.3L41.8,287.7L42.5,285.2L43.2,282.7L44.0,280.2L44.9,277.6L46.9,277.6L48.8,277.6Z"/>
<path id="c3" d="M75.9,303.0L76.0,302.0L76.7,300.9L78.3,300.9L78.1,300.0L77.3,299.2L77.8,299.2L77.9,298.4L80.2,298.4L79.8,301.1L80.7,300.8L81.0,301.4L79.7,302.5L79.4,303.2L78.4,304.2L77.2,305.2L76.0,304.5L74.8,303.8Z"/>
<path id="c4" d="M80.2,298.4L80.2,298.1L81.4,297.4L82.4,297.4L82.0,299.3L81.6,301.1L79.8,301.1Z"/>
<path id="c5" d="M79.4,303.2L79.7,302.5L81.0,301.4L81.4,300.3L83.5,300.3L85.5,300.3L87.6,300.3L87.2,302.4L86.1,302.7L84.8,303.0L83.7,303.9L82.6,304.1L82.6,304.8L81.8,305.2L81.4,305.1L81.2,304.7L81.3,303.9L80.4,303.9Z"/>
<path id="c6" d="M78.4,304.2L79.4,303.2L80.4,303.9L81.3,303.9L81.2,304.7L81.2,305.2L79.6,305.5L78.1,304.8Z"/>
<path id="c7" d="M81.8,305.2L82.6,304.8L82.6,304.1L83.7,303.9L84.8,303.0L86.1,302.7L87.2,302.4L88.0,302.4L87.7,304.3L87.4,306.3L87.1,308.2L86.1,308.1L84.8,308.0L83.5,307.9L82.5,308.0L80.9,305.5Z"/>
<path id="c8" d="M83.5,307.9L84.8,308.0L86.1,308.1L87.1,308.2L87.3,310.1L86.8,310.7L86.8,312.2L85.4,312.6L83.9,311.0L82.4,309.5Z"/>
<path id="c9" d="M87.3,310.1L86.8,310.7L86.8,312.2L87.8,314.0L89.5,314.0L91.1,314.0L92.8,314.0L92.9,313.4L93.7,312.4L93.9,311.9L93.7,311.3L93.6,309.5L91.6,309.5L89.7,309.5L87.7,309.5Z"/>
<path id="c10" d="M96.5,315.1L98.9,315.1L101.4,315.1L103.8,315.1L106.2,315.1L108.7,315.1L111.1,315.1L113.6,315.1L116.0,315.1L118.4,315.1L120.9,315.1L123.3,315.1L125.8,315.1L128.2,315.1L130.6,315.1L133.1,315.1L135.5,315.1L138.0,315.1L140.4,315.1L142.8,315.1L145.3,315.1L147.7,315.1L150.2,315.1L152.6,315.1L152.6,317.9L152.5,320.6L152.5,323.4L152.5,326.2L152.6,328.9L152.6,331.7L152.6,334.4L152.7,337.2L152.8,340.0L152.8,342.7L152.9,345.5L153.0,348.2L153.2,351.0L153.3,353.8L153.4,356.5L153.6,359.3L153.7,362.1L153.9,364.8L154.2,367.6L154.4,370.3L154.7,373.1L152.5,373.1L150.3,373.1L148.0,373.1L145.8,373.1L143.6,373.1L141.4,373.1L139.2,373.1L137.0,373.1L134.8,373.1L132.6,373.1L130.4,373.1L128.2,373.1L126.0,373.1L123.8,373.1L121.6,373.1L119.3,373.1L117.3,370.4L115.3,367.7L113.4,365.0L111.5,362.3L109.6,359.5L107.7,356.8L105.9,354.1L104.1,351.4L102.2,348.7L100.4,346.0L98.7,343.3L96.9,340.6L96.8,338.0L96.6,335.5L96.5,332.9L96.4,330.4L96.4,327.8L96.3,325.3L96.3,322.8L96.3,320.2L96.4,317.7Z"/>
<path id="c11" d="M123.7,359.8L124.7,359.9L124.9,360.8L125.0,362.0L123.6,363.0L122.6,363.8L121.5,365.7L121.0,366.3L120.8,367.4L120.8,368.9L120.9,370.3L121.0,371.7L122.6,373.1L124.3,374.5L124.9,377.1L125.4,379.6L126.0,382.2L126.7,384.7L127.3,387.3L128.0,389.8L128.8,392.3L129.5,394.8L130.3,397.2L131.2,399.7L132.1,402.1L130.2,402.1L128.4,402.1L126.5,402.1L124.6,402.1L122.8,402.1L120.9,402.1L119.0,402.1L118.0,399.9L117.1,397.6L117.1,397.3L115.2,396.8L113.0,395.4L110.9,394.0L110.2,391.7L109.5,389.4L108.8,387.1L108.2,384.8L107.6,382.5L107.1,380.1L106.6,377.8L106.2,375.4L105.8,373.1L105.4,370.7L105.1,368.4L104.9,366.0L105.1,363.5L105.4,360.9L105.8,358.4L106.3,355.8L106.7,353.3L108.6,353.3L110.4,353.3L112.2,353.3L114.1,353.3L116.5,354.9L118.9,356.5L121.3,358.2Z"/>
<path id="c12" d="M104.4,348.3L103.4,349.5L101.4,349.8L101.1,352.5L100.7,355.3L100.4,358.1L100.1,360.8L99.9,363.6L99.8,366.3L99.7,369.1L99.8,371.9L99.8,374.6L100.0,377.4L100.2,380.1L101.1,382.8L102.0,385.4L103.0,388.1L104.1,390.7L105.1,393.3L106.2,395.8L107.5,398.4L108.7,400.9L110.0,403.4L112.0,403.4L114.0,403.4L115.9,403.4L117.9,403.4L119.8,403.4L121.8,403.4L120.8,401.1L119.6,400.9L118.4,400.7L117.7,399.2L117.1,397.6L117.1,397.3L115.2,396.8L113.2,396.8L112.6,396.3L112.0,395.0L110.8,394.7L110.2,393.1L110.6,392.0L110.3,390.6L110.6,389.5L110.3,387.8L109.5,386.4L109.1,385.2L108.2,382.9L107.6,381.1L107.3,379.7L107.6,378.5L107.4,377.0L106.9,375.5L107.5,374.6L107.2,373.4L107.6,372.1L107.3,370.7L106.7,370.0L105.8,367.7L106.1,366.4L105.9,365.0L106.0,363.9L106.4,362.9L107.2,361.9L107.1,360.8L106.8,359.2L106.9,358.2L108.0,357.5L108.0,355.9L106.8,353.7L106.0,351.9L105.6,351.2L105.2,350.5Z"/>
<path id="c13" d="M121.0,366.3L122.3,366.4L123.0,367.2L123.6,367.3L124.8,368.1L125.5,368.7L126.5,369.7L126.8,369.8L126.6,370.5L126.8,371.3L127.7,373.8L125.7,373.6L123.7,373.3L121.7,373.1L121.0,371.7L120.9,370.3L120.8,368.9L120.8,367.4Z"/>
<path id="c14" d="M123.7,359.8L123.9,357.7L122.5,357.5L122.1,355.7L122.0,355.4L121.1,354.9L119.2,354.9L118.7,352.2L118.6,351.6L117.4,350.9L115.8,351.1L114.2,351.3L113.6,352.6L113.4,355.1L115.7,357.3L117.0,357.8L118.2,358.4L120.0,359.4L119.6,360.8L119.2,362.2L120.5,362.3L121.8,362.5L122.5,362.3L123.7,361.2Z"/>
<path id="c15" d="M103.6,339.1L104.5,339.2L105.2,339.2L107.2,337.6L108.7,337.3L108.8,338.9L108.9,340.1L110.1,341.3L111.9,341.5L113.4,342.7L115.1,343.1L115.5,345.0L115.6,346.6L117.9,346.6L118.1,348.1L119.2,349.1L119.0,350.5L118.6,351.6L118.7,352.1L118.6,351.6L117.4,350.9L115.8,351.1L114.2,351.3L113.6,352.6L113.4,355.1L113.2,354.7L111.9,354.7L111.5,355.8L110.7,354.9L110.3,354.9L109.0,354.4L108.0,355.9L106.8,353.7L106.0,351.9L105.6,351.2L105.2,350.5L104.4,348.3L104.3,347.9L104.9,347.1L104.2,345.7L104.4,344.5L104.7,343.7L104.5,341.3Z"/>
<path id="c16" d="M103.4,349.5L104.4,348.3L104.3,347.9L104.9,347.1L104.2,345.7L104.4,344.5L104.7,343.7L104.5,341.3L103.6,339.1L102.3,339.2L102.2,337.5L100.2,337.7L99.9,337.0L98.9,336.9L99.2,336.3L98.2,333.9L97.8,334.2L98.2,333.4L98.9,332.8L98.7,332.1L99.1,331.1L100.3,330.0L101.6,329.5L102.7,329.6L102.3,329.0L101.7,328.9L102.5,327.4L100.1,327.0L98.6,326.1L97.1,324.9L96.1,323.7L95.6,325.8L94.4,327.3L92.9,327.8L92.4,328.4L91.9,330.1L91.5,330.7L90.9,330.0L90.0,329.7L89.6,329.8L89.7,328.4L88.0,328.5L86.4,328.5L86.5,330.7L86.5,332.8L86.6,334.9L88.3,337.2L89.9,339.4L91.5,341.7L93.2,344.0L94.9,346.2L97.1,347.6L99.3,349.1L101.5,350.5Z"/>
<path id="c17" d="M96.1,323.7L95.6,325.8L94.4,327.3L92.9,327.8L92.4,328.4L91.9,330.1L91.5,330.7L90.9,330.0L90.0,329.7L89.6,329.8L89.7,328.4L88.4,328.4L87.0,328.4L87.0,326.1L86.9,323.8L87.0,321.5L89.3,321.5L91.6,321.6L92.3,322.2L93.2,323.0L94.7,323.2Z"/>
<path id="c18" d="M91.6,321.6L92.3,322.2L93.2,323.0L94.7,323.2L96.1,323.7L97.1,324.9L98.6,326.1L100.1,327.0L102.5,327.4L101.7,328.9L102.3,329.0L102.7,329.6L103.0,327.4L103.3,325.3L103.1,324.3L102.5,323.7L102.5,322.8L103.7,322.7L103.6,322.1L102.8,322.1L102.8,321.2L104.9,321.2L105.9,320.6L106.2,321.9L106.5,321.9L106.1,320.3L105.3,319.6L105.6,318.2L105.5,317.9L105.4,316.1L105.9,314.8L103.5,315.0L101.9,313.6L100.3,313.7L99.7,313.1L99.7,312.4L99.9,311.7L99.2,310.6L98.7,310.6L99.4,308.8L99.9,307.9L100.7,307.1L101.5,306.8L102.0,305.2L100.1,305.2L98.3,305.2L96.4,305.2L94.5,305.2L94.2,307.2L93.9,309.3L93.7,311.3L93.9,311.9L93.7,312.4L92.9,313.4L91.6,315.0L90.2,316.5L90.1,319.0L90.1,321.5Z"/>
<path id="c19" d="M106.5,321.9L106.1,320.3L105.3,319.6L105.6,318.2L105.5,317.9L105.4,316.1L105.9,314.8L103.5,315.0L101.9,313.6L100.3,313.7L99.7,313.1L99.7,312.4L99.9,311.7L99.2,310.6L98.7,310.6L99.4,308.8L99.9,307.9L100.7,307.1L101.5,306.8L102.0,305.2L104.3,305.6L106.7,305.9L109.0,306.3L111.4,306.6L113.8,307.0L116.1,307.3L115.7,309.4L115.3,311.5L115.5,311.9L114.4,313.0L114.9,313.7L113.8,314.1L113.4,315.2L114.3,316.2L112.8,317.7L111.7,318.4L111.6,317.9L109.4,317.8L109.9,318.5L110.1,320.1L110.8,320.5L109.9,321.3L108.4,322.0L108.2,322.6L107.2,322.5Z"/>
<path id="c20" d="M115.3,311.5L115.5,311.9L114.4,313.0L114.9,313.7L113.8,314.1L113.4,315.2L114.3,316.2L115.2,316.5L115.2,317.2L115.7,318.1L115.1,319.8L115.4,321.0L116.6,321.9L117.6,321.5L119.5,320.9L118.5,318.9L117.7,317.9L118.0,317.0L118.5,316.1L118.7,315.2L119.0,313.7L117.8,312.3L116.6,310.9Z"/>
<path id="c21" d="M118.7,315.2L118.5,316.1L118.0,317.0L117.7,317.9L118.5,318.9L119.5,320.9L120.2,321.0L120.2,320.1L121.8,320.3L122.6,318.7L122.4,317.9L122.1,316.5L122.7,315.5L122.7,313.7L120.8,313.7L119.0,313.7Z"/>
<path id="c22" d="M122.7,315.5L122.1,316.5L122.4,317.9L122.6,318.7L121.8,320.3L123.8,320.5L124.3,320.1L125.5,317.9L125.5,317.7L126.4,316.5L125.2,315.1L124.0,313.7L122.7,313.7Z"/>
<path id="c23" d="M211.9,267.1L211.6,264.3L211.4,261.6L211.2,258.9L210.9,256.2L210.6,253.5L210.3,250.8L210.0,248.2L209.7,245.6L209.4,243.0L209.0,240.4L208.7,237.9L208.3,235.4L208.0,233.0L207.6,230.6L207.2,228.2L206.8,225.9L206.4,223.7L205.9,221.5L205.5,219.4L205.0,217.4L204.5,215.5L204.0,213.8L205.5,213.8L207.0,213.8L208.4,213.8L209.9,213.8L211.4,213.8L212.9,213.8L214.3,213.8L215.8,213.8L217.3,213.8L218.7,213.8L220.2,213.8L221.7,213.8L223.1,213.8L224.6,213.8L226.1,213.8L227.5,213.8L229.0,213.8L230.5,213.8L231.9,213.8L233.4,213.8L234.9,213.8L236.3,213.8L237.8,213.8L239.3,213.8L240.8,213.8L242.2,213.8L243.7,213.8L245.2,213.8L246.6,213.8L248.1,213.8L249.6,213.8L251.0,213.8L252.5,213.8L254.0,213.8L255.4,213.8L256.9,213.8L258.4,213.8L259.8,213.8L261.3,213.8L262.8,213.8L264.3,213.8L265.7,213.8L267.2,213.8L268.7,213.8L270.1,213.8L271.6,213.8L273.1,213.8L274.5,213.8L276.0,213.8L277.5,213.8L278.9,213.8L280.4,213.8L281.9,213.8L283.3,213.8L284.8,213.8L286.3,213.8L287.7,213.8L289.2,213.8L290.7,213.8L292.2,213.8L293.6,213.8L295.1,213.8L296.6,213.8L298.0,213.8L299.5,213.8L301.0,213.8L302.4,213.8L303.9,213.8L305.4,213.8L306.8,213.8L308.3,213.8L309.8,213.8L311.2,213.8L312.7,213.8L314.2,213.8L315.7,213.8L317.1,213.8L318.6,213.8L320.1,213.8L321.5,213.8L323.0,213.8L327.3,215.5L331.9,217.4L336.6,219.4L341.0,221.5L345.1,223.7L349.1,225.9L352.9,228.2L356.5,230.6L360.1,233.0L363.6,235.4L367.0,237.9L370.3,240.4L373.6,243.0L376.7,245.6L379.8,248.2L382.7,250.8L385.4,253.5L388.0,256.2L390.5,258.9L392.8,261.6L395.1,264.3L397.2,267.1L394.9,267.1L392.6,267.1L390.4,267.1L388.1,267.1L385.8,267.1L383.5,267.1L381.2,267.1L378.9,267.1L376.6,267.1L374.3,267.1L372.0,267.1L369.8,267.1L367.5,267.1L365.2,267.1L362.9,267.1L360.6,267.1L358.3,267.1L356.0,267.1L353.7,267.1L351.5,267.1L349.2,267.1L346.9,267.1L344.6,267.1L342.3,267.1L340.0,267.1L337.7,267.1L335.4,267.1L333.1,267.1L330.9,267.1L328.6,267.1L326.3,267.1L324.0,267.1L321.7,267.1L319.4,267.1L317.1,267.1L314.8,267.1L312.6,267.1L310.3,267.1L308.0,267.1L305.7,267.1L303.4,267.1L301.1,267.1L298.8,267.1L296.5,267.1L294.2,267.1L292.0,267.1L289.7,267.1L287.4,267.1L285.1,267.1L282.8,267.1L280.5,267.1L278.2,267.1L275.9,267.1L273.7,267.1L271.4,267.1L269.1,267.1L266.8,267.1L264.5,267.1L262.2,267.1L259.9,267.1L257.6,267.1L255.3,267.1L253.1,267.1L250.8,267.1L248.5,267.1L246.2,267.1L243.9,267.1L241.6,267.1L239.3,267.1L237.0,267.1L234.8,267.1L232.5,267.1L230.2,267.1L227.9,267.1L225.6,267.1L223.3,267.1L221.0,267.1L218.7,267.1L216.4,267.1L214.2,267.1Z"/>
<path id="c24" d="M201.2,241.2L201.8,241.3L201.8,240.2L202.5,239.3L202.1,238.5L202.7,238.1L202.0,237.6L201.7,235.4L203.0,234.0L203.5,234.5L203.6,232.1L204.4,231.9L204.9,230.5L205.7,229.9L206.5,229.2L208.3,229.3L208.6,228.5L209.5,228.2L211.0,229.0L212.7,229.1L213.3,228.4L213.4,227.8L214.3,227.5L215.1,227.3L216.5,228.0L216.3,228.5L217.7,227.6L218.4,226.2L216.7,225.8L215.0,225.4L213.4,224.9L211.7,224.5L210.2,225.0L208.7,225.5L207.1,226.0L205.6,226.5L204.0,227.0L202.4,227.6L200.7,228.1L199.1,228.6L197.6,230.7L196.1,232.9L194.6,235.0L192.9,237.3L193.0,239.2L193.0,241.1L193.1,243.1L194.8,243.0L196.6,242.8L198.4,242.7L200.2,242.6Z"/>
<path id="c25" d="M201.2,241.2L201.8,241.3L201.8,240.2L202.5,239.3L202.1,238.5L202.7,238.1L202.0,237.6L201.7,235.4L203.0,234.0L203.5,234.5L203.6,232.1L204.4,231.9L204.9,230.5L205.7,229.9L206.5,229.2L208.3,229.3L208.6,228.5L210.2,229.2L211.7,229.9L211.8,230.8L212.3,231.3L212.7,232.5L211.9,233.3L211.0,234.1L209.9,236.3L208.8,238.5L209.5,240.5L210.3,242.4L209.1,244.4L207.7,246.4L206.2,246.3L204.6,246.2L203.0,246.1L202.9,244.8L201.0,242.4Z"/>
<path id="c26" d="M208.6,228.5L209.5,228.2L211.0,229.0L212.7,229.1L213.3,228.4L213.4,227.8L214.3,227.5L215.1,227.3L216.5,228.0L216.3,228.5L216.2,228.7L216.1,229.6L217.6,230.2L217.1,231.1L218.4,232.6L218.0,232.6L219.0,233.7L218.8,235.0L220.5,236.1L219.6,237.2L218.6,238.3L217.6,239.1L216.3,239.7L215.0,240.2L213.7,240.3L212.4,240.3L211.0,240.3L209.8,238.5L210.4,236.3L211.0,234.1L211.9,233.3L212.7,232.5L212.3,231.3L211.8,230.8L211.7,229.9L210.2,229.2Z"/>
<path id="c27" d="M214.8,242.6L215.7,242.4L217.1,243.1L217.9,243.0L218.0,242.7L217.6,241.4L218.3,240.5L217.1,240.2L216.0,240.0L214.7,240.1L213.4,240.3L212.1,240.5L211.8,242.4L212.9,242.5L213.9,242.6Z"/>
<path id="c28" d="M211.8,245.0L212.7,244.5L214.2,244.5L215.7,244.5L217.6,245.5L219.1,244.9L218.4,243.4L217.9,243.0L217.1,243.1L215.7,242.4L214.8,242.6L214.5,243.4L213.1,242.4L212.0,242.8L210.9,243.1Z"/>
<path id="c29" d="M211.8,245.0L212.7,244.5L214.2,244.5L215.7,244.5L217.6,245.5L217.9,246.0L216.9,246.5L216.8,247.3L215.7,247.6L214.7,247.8L213.9,247.3L213.7,246.5L212.2,246.1L211.3,245.7Z"/>
<path id="c30" d="M215.3,251.1L215.2,250.3L214.7,250.0L215.4,249.5L214.7,247.8L215.7,247.6L216.8,247.3L216.9,246.5L217.9,246.0L217.6,245.5L219.1,244.9L220.2,245.1L221.3,245.3L222.3,246.1L222.2,246.7L223.4,247.7L224.6,248.6L223.4,249.0L223.9,250.3L222.9,251.4L221.3,251.1L220.1,251.1L218.9,251.0L217.8,250.8L216.7,250.6Z"/>
<path id="c31" d="M214.3,255.4L214.6,254.4L214.7,253.7L215.6,252.6L216.0,252.0L215.3,251.1L216.7,250.6L217.8,250.8L218.9,251.0L220.1,251.1L221.3,251.1L222.9,251.4L223.9,250.3L225.4,250.0L226.8,250.7L226.7,251.5L228.2,252.3L229.6,252.8L231.2,253.3L232.4,253.5L233.6,253.7L233.4,255.1L233.9,256.1L232.2,257.2L232.8,258.7L231.3,260.8L229.2,261.1L227.2,261.5L225.1,261.1L223.1,260.8L223.2,259.8L221.5,259.4L222.2,258.7L223.3,258.0L222.0,256.0L220.1,255.3L219.2,255.6L217.4,256.3L216.3,256.1L215.2,255.9Z"/>
<path id="c32" d="M219.2,255.6L220.1,255.3L222.0,256.0L223.3,258.0L222.2,258.7L221.5,259.4L221.2,257.9L219.7,256.1Z"/>
<path id="c33" d="M205.0,247.9L205.2,248.7L205.0,249.3L205.5,249.8L205.8,250.6L206.1,251.7L205.9,252.0L206.5,252.1L207.6,252.3L207.5,252.6L208.3,252.6L209.2,253.0L210.5,253.9L211.2,253.7L211.6,254.3L211.9,254.1L212.9,254.0L214.6,254.4L214.7,253.7L215.6,252.6L216.0,252.0L215.3,251.1L215.2,250.3L214.7,250.0L215.4,249.5L214.7,247.8L213.9,247.3L212.2,247.2L210.6,247.1L209.7,245.7L208.0,246.0L206.3,246.2L204.6,246.4Z"/>
<path id="c34" d="M196.5,252.1L196.6,251.5L196.4,250.7L197.3,250.5L197.5,250.1L197.1,249.6L197.5,249.6L197.6,248.8L196.8,247.7L198.3,245.7L199.0,246.5L199.9,246.7L201.5,246.4L203.0,246.4L204.6,246.4L205.0,247.9L205.2,248.7L205.0,249.3L205.5,249.8L205.8,250.6L206.1,251.7L205.9,252.0L205.4,251.8L204.3,252.5L203.3,252.8L203.1,252.8L203.6,253.3L203.6,253.6L204.6,254.6L205.1,254.9L204.7,255.2L204.3,255.6L204.3,256.2L204.4,256.6L203.4,256.5L202.2,256.7L201.5,256.5L201.3,256.9L200.6,256.5L199.5,256.3L198.4,256.5L198.3,255.8L199.0,254.5L197.6,254.3L197.0,253.9L197.0,253.0L196.7,253.0L196.8,252.8Z"/>
<path id="c35" d="M199.0,246.5L199.9,246.7L201.5,246.4L201.3,244.4L201.2,242.4L199.4,242.8L197.7,243.1L197.7,244.7L197.8,246.4Z"/>
<path id="c36" d="M193.6,251.3L194.6,251.3L195.4,251.2L196.3,251.7L196.1,252.1L196.5,252.1L196.6,251.5L196.4,250.7L197.3,250.5L197.5,250.1L197.1,249.6L197.5,249.6L197.6,248.8L196.8,247.7L195.5,248.1L194.2,248.4L193.2,250.4Z"/>
<path id="c37" d="M192.7,251.7L193.3,252.1L194.4,252.8L194.6,253.2L195.2,253.0L195.3,253.4L196.3,253.9L196.3,253.8L196.4,253.0L196.7,253.0L196.8,252.8L196.5,252.1L196.1,252.1L196.3,251.7L195.4,251.2L194.6,251.3L193.6,251.3L192.7,251.0Z"/>
<path id="c38" d="M196.3,253.8L196.4,253.0L196.7,253.0L197.0,253.0L197.0,253.9L196.3,253.9Z"/>
<path id="c39" d="M188.0,262.4L188.4,262.8L189.2,263.0L190.8,263.3L191.7,263.6L192.3,263.7L193.6,263.6L194.6,264.3L196.5,263.7L198.5,263.1L198.5,261.7L198.7,261.3L197.8,260.9L197.8,260.1L197.6,259.9L197.7,258.9L197.8,258.8L197.5,258.1L196.8,258.4L196.8,257.9L197.6,256.9L198.4,256.5L198.3,255.8L199.0,254.5L197.6,254.3L197.0,253.9L196.3,253.9L195.3,253.4L195.2,253.0L194.6,253.2L194.4,252.8L193.3,252.1L192.7,251.7L191.6,251.4L189.6,252.2L187.6,253.0L185.5,253.8L183.5,254.5L184.5,256.4L185.6,258.2L186.6,260.1Z"/>
<path id="c40" d="M179.9,264.4L180.7,264.1L180.7,264.5L182.5,264.3L182.9,264.8L182.1,265.7L182.2,266.6L181.9,267.5L181.4,267.6L181.9,268.3L181.5,269.3L181.9,269.6L181.3,270.4L181.4,271.0L181.5,273.4L183.7,273.3L185.8,273.2L187.9,273.1L190.0,273.0L191.9,271.0L193.9,269.0L195.8,267.1L194.7,265.3L193.6,263.6L192.3,263.7L191.7,263.6L190.8,263.3L189.2,263.0L188.4,262.8L188.0,262.4L186.6,260.8L184.7,260.8L182.7,260.8L180.7,260.8L178.8,260.8L179.3,262.6Z"/>
<path id="c41" d="M179.9,264.4L180.7,264.1L180.7,264.5L182.5,264.3L182.9,264.8L182.1,265.7L182.2,266.6L181.9,267.5L181.4,267.6L181.9,268.3L181.5,269.3L181.9,269.6L181.3,270.4L181.4,271.0L181.3,272.0L179.5,272.0L177.7,272.0L177.8,269.4L177.9,266.8L178.0,264.3Z"/>
<path id="c42" d="M197.8,258.8L197.5,258.1L196.8,258.4L196.8,257.9L197.6,256.9L198.4,256.5L199.5,256.3L200.6,256.5L200.6,257.2L201.6,257.4L201.6,257.9L201.2,258.3L200.3,258.0L200.1,258.9L199.4,258.3L198.7,258.7Z"/>
<path id="c43" d="M200.6,256.5L201.3,256.9L201.5,256.5L202.2,256.7L203.4,256.5L204.4,256.6L204.3,256.2L204.3,255.6L204.7,255.2L205.1,254.9L206.1,255.1L206.4,254.5L207.5,254.9L208.5,255.1L208.8,255.9L208.8,256.3L208.1,256.3L208.2,256.7L207.8,257.5L207.7,257.7L206.6,257.8L206.2,258.1L205.2,258.0L203.7,257.7L203.5,257.2L202.7,257.3L202.2,257.6L201.6,257.9L201.6,257.4L200.6,257.2Z"/>
<path id="c44" d="M198.5,261.7L198.7,261.3L197.8,260.9L197.8,260.1L197.6,259.9L197.7,258.9L197.8,258.8L198.7,258.7L199.4,258.3L200.1,258.9L200.3,258.0L201.2,258.3L201.6,257.9L202.2,257.6L202.7,257.3L203.5,257.2L203.7,257.7L205.2,258.0L204.9,258.4L205.1,258.8L205.4,259.2L204.8,259.8L204.8,260.6L207.0,263.1L208.8,264.2L210.6,265.3L212.4,266.4L212.0,268.5L210.5,269.4L209.0,270.3L207.5,271.3L206.3,269.5L205.0,267.8L203.4,266.2L201.8,264.7L200.2,263.1L200.1,261.7L198.5,262.6Z"/>
<path id="c45" d="M205.9,252.0L206.5,252.1L207.6,252.3L207.5,252.6L208.3,252.6L209.2,253.0L210.5,253.9L209.7,254.4L208.8,254.7L208.5,255.1L207.5,254.9L206.4,254.5L206.1,255.1L205.1,254.9L204.6,254.6L203.6,253.6L203.6,253.3L203.1,252.8L203.3,252.8L204.3,252.5L205.4,251.8Z"/>
<path id="c46" d="M210.5,253.9L211.2,253.7L211.6,254.3L211.9,254.1L212.9,254.0L214.6,254.4L214.3,255.4L213.4,255.2L212.4,255.2L211.5,255.6L210.7,256.2L208.8,255.9L208.5,255.1L208.8,254.7L209.7,254.4Z"/>
<path id="c47" d="M207.8,257.5L208.2,256.7L208.1,256.3L208.8,256.3L208.8,255.9L210.7,256.2L211.5,255.6L212.4,255.2L213.4,255.2L214.3,255.4L215.2,255.9L213.5,258.1L212.5,258.5L211.0,258.8L209.6,258.7L208.3,258.0Z"/>
<path id="c48" d="M215.2,255.9L216.3,256.1L217.4,256.3L219.2,255.6L219.7,256.1L221.2,257.9L221.5,259.4L223.2,259.8L224.1,260.1L223.3,262.2L222.2,261.8L220.4,261.3L219.3,261.6L218.2,261.9L217.1,261.8L215.9,261.7L215.5,261.2L215.1,260.5L214.0,260.3L214.0,259.8L212.5,258.5L213.5,258.1Z"/>
<path id="c49" d="M215.4,263.8L215.4,263.1L216.0,262.6L215.3,261.7L215.5,261.2L215.9,261.7L217.1,261.8L218.2,261.9L219.3,261.6L220.4,261.3L222.2,261.8L223.3,262.2L223.0,264.3L221.9,264.3L220.1,264.7L218.0,265.0L216.2,265.2L216.2,264.6Z"/>
<path id="c50" d="M205.2,258.0L206.2,258.1L206.6,257.8L207.7,257.7L207.8,257.5L208.3,258.0L207.3,258.4L207.5,259.0L207.1,259.4L206.2,259.4L205.2,259.4L204.7,259.4L205.4,259.2L205.1,258.8L204.9,258.4Z"/>
<path id="c51" d="M208.3,258.0L209.6,258.7L211.0,258.8L211.3,259.7L211.7,259.8L211.3,260.2L210.1,260.0L208.9,259.8L207.7,259.8L207.7,260.3L208.2,261.2L209.6,262.3L210.0,262.8L209.9,263.0L211.0,263.5L210.9,263.8L209.5,263.6L208.2,263.3L206.4,262.0L204.6,260.8L204.7,259.4L205.2,259.4L206.2,259.4L207.1,259.4L207.5,259.0L207.3,258.4Z"/>
<path id="c52" d="M211.3,260.2L211.7,260.2L211.5,261.0L212.0,261.5L211.7,262.2L211.2,262.6L211.0,263.5L209.9,263.0L210.0,262.8L209.6,262.3L208.2,261.2L207.7,260.3L207.7,259.8L208.9,259.8L210.1,260.0Z"/>
<path id="c53" d="M211.0,258.8L212.5,258.5L214.0,259.8L214.0,260.3L215.1,260.5L215.5,261.2L215.3,261.7L216.0,262.6L215.4,263.1L215.4,263.8L214.3,263.9L213.5,264.5L213.3,264.0L212.8,263.2L213.1,263.1L211.7,262.2L212.0,261.5L211.5,261.0L211.7,260.2L211.3,260.2L211.7,259.8L211.3,259.7Z"/>
<path id="c54" d="M211.0,263.5L211.2,262.6L211.7,262.2L213.1,263.1L212.8,263.2L212.3,263.4L212.1,264.5L211.5,264.7L210.8,263.8Z"/>
<path id="c55" d="M212.1,264.5L212.3,263.4L212.8,263.2L213.3,264.0L213.5,264.5L213.4,265.2L213.8,265.8L214.1,265.9L213.8,266.6L213.4,267.3L213.1,267.5L212.2,267.2L211.7,265.0Z"/>
<path id="c56" d="M213.5,264.5L214.3,263.9L215.4,263.8L216.2,264.6L216.2,265.2L215.5,265.4L214.1,265.9L213.8,265.8L213.4,265.2Z"/>
<path id="c57" d="M213.1,267.5L213.4,267.3L213.8,266.6L214.1,265.9L215.5,265.4L216.2,265.2L218.0,265.0L220.1,264.7L219.9,266.0L219.3,266.8L219.8,268.3L220.2,269.9L219.2,271.3L218.1,272.7L216.4,272.7L214.6,272.7L213.6,270.6L212.6,268.5Z"/>
<path id="c58" d="M219.9,266.0L220.1,264.7L221.9,264.3L223.0,263.8L224.9,263.7L226.9,263.5L228.9,263.3L230.8,263.1L233.0,263.7L235.2,264.3L237.5,265.0L238.6,265.0L239.7,265.5L240.2,266.1L240.2,266.9L241.7,267.6L241.3,267.9L240.8,267.9L241.7,269.5L241.4,270.0L242.3,271.1L241.6,271.0L239.5,271.1L237.8,271.1L236.7,271.6L235.6,271.5L234.4,271.5L232.8,271.6L233.0,272.3L232.4,272.9L232.1,272.8L231.1,273.4L229.2,273.4L227.4,273.4L225.5,273.4L223.6,273.4L221.7,273.4L220.8,271.6L219.9,269.9L219.7,268.3L219.6,266.8Z"/>
<path id="c59" d="M227.8,275.0L229.4,275.0L231.1,275.0L230.8,273.0L229.2,273.0L227.6,273.0Z"/>
<path id="c60" d="M285.2,254.4L285.7,254.3L287.6,255.8L289.5,257.3L292.0,259.0L294.4,260.8L296.9,262.5L299.4,264.3L301.5,264.5L303.7,264.8L305.9,265.1L308.1,265.4L310.3,265.7L311.9,264.8L313.4,263.9L315.0,263.0L316.5,262.2L316.6,260.0L316.7,257.8L316.7,255.6L316.7,253.4L318.1,253.9L318.8,252.7L318.1,251.0L317.4,249.4L317.9,248.7L319.2,248.5L320.5,248.4L321.8,248.7L323.1,249.0L325.8,251.2L328.4,253.4L330.5,254.1L332.7,254.7L334.1,256.3L335.9,256.3L336.9,255.8L337.9,255.3L338.1,256.7L338.5,258.3L338.9,259.9L337.3,259.7L337.7,261.4L338.4,262.3L338.4,263.6L337.4,263.6L335.9,264.3L336.4,265.1L334.8,264.6L334.4,265.8L333.2,267.1L334.1,269.9L336.1,272.1L338.0,274.4L339.9,276.7L341.7,278.9L343.5,281.2L342.6,283.5L341.7,285.9L340.7,288.2L339.6,290.6L338.4,293.0L337.2,295.3L335.2,295.8L333.1,296.4L331.1,296.9L329.0,297.4L326.9,298.0L324.9,298.5L322.8,299.0L320.7,299.6L318.7,298.5L316.7,297.4L314.7,296.4L312.7,295.3L310.8,293.2L309.0,291.1L307.1,289.0L305.2,286.8L302.9,286.7L300.6,286.5L298.3,286.3L296.0,286.1L293.7,285.9L291.4,285.8L289.1,285.6L286.8,285.4L284.4,283.2L282.0,280.9L279.6,278.6L277.2,276.4L274.8,274.1L274.6,271.8L274.3,269.4L274.0,267.1L275.1,265.0L276.1,262.9L277.0,260.8L277.9,258.7L279.4,257.8L280.9,257.0L282.4,256.1L283.8,255.3Z"/>
<path id="c61" d="M285.7,254.3L286.3,255.1L287.6,255.6L288.9,256.1L291.0,258.3L291.8,259.8L293.3,260.0L294.7,260.1L297.3,261.0L299.4,263.2L301.1,263.3L302.8,263.3L304.5,263.3L305.6,263.6L307.8,264.2L309.9,264.8L311.0,264.2L312.2,263.6L314.2,263.6L315.2,262.8L316.1,261.9L315.2,260.0L317.4,260.4L318.4,259.8L319.3,259.2L319.5,258.3L320.3,258.1L321.6,257.9L322.8,257.6L322.2,257.0L320.2,256.0L319.7,256.4L318.4,256.2L317.1,256.1L316.7,253.4L315.2,253.1L313.7,252.8L312.8,253.4L311.9,254.0L310.0,254.0L308.1,254.1L305.8,252.9L304.0,252.7L302.3,252.6L300.5,252.4L299.7,251.3L297.6,250.8L295.6,250.3L295.3,251.8L296.2,252.5L295.7,253.5L294.1,253.3L292.5,253.1L291.1,252.6L289.6,252.1L288.8,252.6L287.2,253.3Z"/>
<path id="c62" d="M244.6,258.2L243.7,257.8L242.1,256.2L241.0,255.4L241.2,254.3L240.7,252.8L242.6,252.3L242.9,253.2L243.7,252.0L244.4,250.8L246.2,251.1L247.5,251.5L248.8,251.8L250.1,252.3L251.6,252.1L253.1,251.8L254.5,252.0L256.2,252.1L256.3,251.5L254.4,250.6L255.0,250.0L254.6,249.4L255.8,249.0L254.6,248.4L254.8,247.7L256.5,247.5L258.2,247.3L259.7,246.8L261.1,246.4L262.4,246.2L263.7,246.0L264.8,247.5L266.1,247.6L267.5,247.7L269.0,247.4L270.5,247.2L272.4,248.7L274.3,250.4L276.2,252.1L278.0,251.9L279.8,251.8L282.7,253.7L284.2,253.4L285.2,254.4L284.2,255.2L284.7,257.2L283.2,257.1L281.7,257.0L281.9,259.4L280.7,259.8L279.5,260.2L281.4,262.6L281.3,264.0L279.8,263.1L277.9,263.1L275.9,263.0L274.1,262.6L273.3,262.9L273.5,263.7L271.3,263.1L270.7,263.9L270.0,265.1L268.9,265.2L268.1,265.9L266.3,265.4L264.9,262.9L263.2,261.9L261.6,262.0L260.0,262.2L258.7,261.0L257.0,260.2L255.4,259.3L254.0,259.7L252.7,260.1L253.4,262.6L254.0,265.2L252.3,264.3L251.1,264.4L249.8,264.6L247.9,263.6L247.0,262.2L246.1,260.8L247.5,259.4L246.0,258.0Z"/>
<path id="c63" d="M235.2,262.3L235.5,262.1L236.8,262.3L238.1,262.6L239.7,263.4L240.9,263.3L241.9,263.6L242.9,264.4L243.1,264.5L242.7,264.8L243.2,265.6L241.5,265.3L239.7,265.5L238.6,265.0L237.5,265.0L236.1,264.3Z"/>
<path id="c64" d="M239.7,265.5L241.5,265.3L242.3,265.9L242.8,266.8L243.7,267.8L243.8,268.6L243.4,268.7L242.5,267.8L241.7,267.6L240.2,266.9L240.2,266.1Z"/>
<path id="c65" d="M242.9,264.4L244.1,265.2L244.8,265.4L245.4,264.5L247.1,265.0L248.7,267.1L247.5,269.6L246.7,269.2L245.6,268.7L245.8,267.9L245.1,267.5L243.8,268.6L243.7,267.8L242.8,266.8L242.3,265.9L241.5,265.3L243.2,265.6L242.7,264.8L243.1,264.5ZM241.7,267.6L242.5,267.8L243.4,268.7L242.6,268.5L241.9,268.0Z"/>
<path id="c66" d="M241.7,267.6L241.9,268.0L242.6,268.5L243.4,268.7L243.8,268.6L245.1,267.5L245.8,267.9L245.6,268.7L246.7,269.2L247.5,269.6L249.3,269.9L251.1,270.3L252.8,270.8L253.9,270.7L254.4,269.7L256.4,269.5L258.0,270.4L259.1,270.6L260.5,271.8L261.5,271.8L262.0,273.3L262.0,274.4L261.5,275.4L261.6,276.1L262.1,276.2L262.0,277.2L262.8,279.1L263.6,279.2L263.9,280.0L263.0,281.4L264.4,283.2L265.7,283.7L265.9,285.1L266.5,285.1L266.5,286.0L265.5,286.3L265.0,286.6L264.8,288.0L264.9,289.7L262.8,288.6L260.6,287.6L258.5,286.6L256.4,287.0L254.3,287.5L252.3,285.4L250.2,283.3L248.2,281.2L247.5,280.5L247.0,279.8L247.0,278.6L244.7,276.7L243.8,275.5L244.2,275.1L243.5,274.1L244.2,273.0L243.2,272.7L242.3,271.1L241.4,270.0L241.7,269.5L240.8,267.9L241.3,267.9Z"/>
<path id="c67" d="M242.3,271.1L243.2,272.7L244.2,273.0L243.5,274.1L244.2,275.1L243.8,275.5L244.7,276.7L247.0,278.6L247.0,279.8L247.5,280.5L248.2,281.2L248.0,281.6L247.5,281.2L247.2,281.0L246.0,282.4L243.7,282.3L242.0,281.0L240.3,279.6L238.1,278.5L236.7,278.1L236.4,277.6L236.0,276.4L237.2,275.7L238.4,275.0L238.6,274.4L238.4,272.0L239.5,271.1L241.6,271.0Z"/>
<path id="c68" d="M239.5,271.1L238.4,272.0L238.6,274.4L238.4,275.0L237.2,275.7L236.0,276.4L234.9,277.2L233.8,277.9L232.7,277.4L232.4,276.5L232.5,276.4L233.2,275.2L232.9,274.7L232.4,274.6L231.8,274.1L232.1,272.8L232.4,272.9L233.0,272.3L232.8,271.6L234.4,271.5L235.6,271.5L236.7,271.6L237.8,271.1Z"/>
<path id="c69" d="M231.6,276.8L232.5,276.4L233.2,275.2L232.9,274.7L232.4,274.6L231.3,275.1Z"/>
<path id="c70" d="M230.8,279.3L231.9,281.9L232.3,279.8L232.4,279.1L232.3,277.8L232.7,277.4L232.4,276.5L231.6,276.8L230.4,277.6Z"/>
<path id="c71" d="M232.0,282.0L233.4,282.3L235.0,281.2L235.5,280.5L234.2,279.1L235.4,278.6L236.7,278.1L236.4,277.6L236.0,276.4L234.9,277.2L233.8,277.9L232.7,277.4L232.3,277.8L232.4,279.1L232.3,279.8L231.9,281.9Z"/>
<path id="c72" d="M232.0,282.0L233.4,282.3L235.0,281.2L235.5,280.5L234.2,279.1L235.4,278.6L236.7,278.1L238.1,278.5L240.3,279.6L242.0,281.0L243.7,282.3L246.0,282.4L247.1,282.6L247.4,283.2L248.3,283.2L250.3,284.0L251.1,286.3L251.8,288.6L252.3,288.8L252.8,289.4L252.8,289.5L254.2,291.1L255.8,291.3L257.3,291.5L258.1,292.5L257.8,293.9L257.5,295.3L255.7,296.0L253.9,296.7L252.2,297.0L250.4,297.3L249.3,297.9L247.6,299.1L246.0,299.1L245.0,299.0L243.5,298.9L243.3,300.0L242.8,300.4L240.6,300.3L239.2,297.9L237.9,295.5L236.5,293.1L235.1,290.7L233.8,288.2L232.4,285.8L231.0,283.3Z"/>
<path id="c73" d="M253.9,296.7L252.2,297.0L250.4,297.3L249.3,297.9L247.6,299.1L246.0,299.1L245.0,299.0L243.5,298.9L243.3,300.0L242.8,300.4L241.9,301.0L242.2,302.9L242.5,304.7L242.7,306.6L244.3,307.0L245.9,307.3L247.8,306.3L249.8,305.4L251.7,304.4L253.6,303.4L255.5,302.4L255.5,300.1L254.7,298.4Z"/>
<path id="c74" d="M258.1,292.5L257.8,293.9L257.5,295.3L255.7,296.0L253.9,296.7L254.7,298.4L255.5,300.1L257.9,301.0L260.0,298.4L262.0,295.8L264.0,293.2L263.9,291.8L263.8,290.4L261.5,289.3L259.3,288.2L258.6,288.3L258.2,288.6L257.9,289.4L258.0,290.9ZM258.1,287.4L258.7,287.4L258.6,286.0L258.0,286.3Z"/>
<path id="c75" d="M252.8,289.4L252.8,289.5L254.2,291.1L255.8,291.3L257.3,291.5L258.1,292.5L258.0,290.9L257.9,289.4L258.2,288.6L258.6,288.3L258.7,287.4L258.1,287.4L258.0,286.7L256.8,287.1L255.6,287.5L254.4,288.0L253.2,288.5Z"/>
<path id="c76" d="M251.8,288.6L252.3,288.8L253.1,287.5L252.4,286.1L251.2,286.8Z"/>
<path id="c77" d="M246.0,282.4L247.2,281.0L247.5,281.2L248.0,281.6L248.7,282.6L248.3,283.2L247.4,283.2L247.1,282.6Z"/>
<path id="c78" d="M249.8,264.6L251.1,264.4L252.3,264.3L254.0,265.2L255.2,265.2L255.0,264.3L256.5,263.1L258.3,264.0L258.6,265.2L260.9,265.5L261.8,267.1L264.3,268.5L265.9,269.7L267.6,270.8L265.6,271.1L265.5,272.3L264.0,272.9L263.3,273.9L262.0,273.3L261.5,271.8L260.5,271.8L259.1,270.6L258.0,270.4L256.4,269.5L254.4,269.7L253.9,270.7L252.8,270.8L251.9,271.3L250.9,269.2L249.9,267.1L249.9,265.7Z"/>
<path id="c79" d="M254.0,265.2L253.4,262.6L252.7,260.1L254.0,259.7L255.4,259.3L257.0,260.2L258.7,261.0L260.0,262.2L261.6,262.0L263.2,261.9L264.9,262.9L266.3,265.4L268.1,265.9L268.9,265.2L270.0,265.1L270.7,263.9L271.1,264.1L272.2,265.2L273.8,265.9L272.5,266.8L270.9,266.4L270.8,265.7L269.5,266.0L268.9,266.8L269.0,267.7L267.8,267.8L268.8,268.6L269.4,269.9L269.1,271.0L267.6,270.8L265.9,269.7L264.3,268.5L261.8,267.1L260.9,265.5L258.6,265.2L258.3,264.0L256.5,263.1L255.0,264.3L255.2,265.2Z"/>
<path id="c80" d="M270.7,263.9L271.3,263.1L273.5,263.7L273.3,262.9L274.1,262.6L275.9,263.0L277.9,263.1L279.8,263.1L281.3,264.0L280.4,264.7L279.5,265.5L277.8,266.4L276.5,266.7L275.1,267.1L275.0,267.8L272.9,268.0L271.3,267.6L270.0,267.8L269.7,266.8L270.9,266.4L272.5,266.8L273.8,265.9L272.2,265.2L271.1,264.1Z"/>
<path id="c81" d="M269.1,271.0L269.4,269.9L268.8,268.6L267.8,267.8L269.0,267.7L268.9,266.8L269.5,266.0L270.8,265.7L270.9,266.4L269.7,266.8L270.0,267.8L271.3,267.6L272.9,268.0L275.0,267.8L275.5,269.0L277.2,269.0L277.4,271.0L276.1,271.1L274.9,271.3L273.7,271.7L272.8,269.5L271.8,269.7L271.8,270.5L270.9,270.4L270.3,270.9Z"/>
<path id="c82" d="M262.0,273.3L263.3,273.9L264.0,272.9L265.5,272.3L265.6,271.1L267.6,270.8L269.1,271.0L270.3,270.9L270.9,270.4L271.8,270.5L271.8,269.7L272.8,269.5L273.7,271.7L274.9,271.3L276.1,271.1L277.4,271.0L277.0,271.3L275.9,271.4L274.7,271.6L273.8,272.1L273.5,272.6L274.2,273.5L273.9,275.0L274.0,275.4L272.8,275.6L272.9,276.8L272.4,277.6L272.6,278.5L271.3,278.6L269.4,279.8L269.5,281.4L268.2,281.7L266.9,282.0L265.1,282.0L263.0,281.4L263.9,280.0L263.6,279.2L262.8,279.1L262.0,277.2L262.1,276.2L261.6,276.1L261.5,275.4L262.0,274.4Z"/>
<path id="c83" d="M263.0,281.4L265.1,282.0L266.9,282.0L268.2,281.7L269.5,281.4L269.4,279.8L271.3,278.6L272.6,278.5L272.4,277.6L272.9,276.8L272.8,275.6L274.0,275.4L273.9,275.0L274.2,273.5L273.5,272.6L273.8,272.1L274.7,271.6L275.9,271.4L277.0,271.3L277.4,271.0L278.6,271.7L279.4,272.9L281.4,273.4L280.7,274.1L279.1,274.7L277.2,275.1L277.8,276.9L279.7,277.9L278.9,278.5L279.0,279.8L278.0,281.3L276.7,284.1L274.9,284.0L274.1,285.4L274.9,286.1L275.7,287.3L276.4,289.1L275.1,289.2L273.7,289.2L273.1,290.1L271.8,291.1L269.5,290.6L267.2,290.1L264.9,289.7L264.8,288.0L265.0,286.6L265.5,286.3L266.5,286.0L266.5,285.1L265.9,285.1L265.7,283.7L264.4,283.2Z"/>
<path id="c84" d="M273.1,290.1L273.7,289.2L275.1,289.2L276.4,289.1L275.7,287.3L274.9,286.1L274.1,285.4L274.9,284.0L276.7,284.1L278.0,281.3L279.0,279.8L278.9,278.5L279.7,277.9L277.8,276.9L277.2,275.1L279.1,274.7L280.7,274.1L281.4,273.4L282.4,274.7L283.2,275.1L283.2,276.1L283.9,277.6L283.2,277.6L284.0,279.3L285.0,279.8L286.0,280.4L287.1,280.9L286.5,281.6L286.4,282.9L288.8,284.1L290.7,284.9L291.6,284.7L293.9,286.0L295.6,286.3L296.7,286.3L296.4,284.1L297.1,283.9L297.4,285.0L297.7,285.8L299.3,285.6L301.4,285.6L300.5,284.2L301.6,284.1L302.9,282.9L304.6,282.4L305.4,282.0L307.3,283.7L307.3,285.3L305.3,286.0L304.9,288.0L304.6,289.8L303.7,289.7L303.9,292.1L303.2,292.5L302.5,294.6L301.8,296.7L300.8,299.2L299.7,301.7L298.5,304.2L297.3,306.6L296.1,309.1L294.9,311.6L293.6,314.1L292.3,316.5L290.1,316.2L287.9,315.8L285.7,315.5L283.5,315.1L282.2,312.6L280.8,310.1L279.4,307.6L278.0,305.1L276.6,302.5L275.1,300.0L273.7,297.5L272.2,295.0L270.7,292.5L271.9,291.3Z"/>
<path id="c85" d="M287.1,280.9L288.3,280.7L290.8,282.2L292.5,283.2L293.8,284.1L295.1,284.1L296.4,284.1L296.7,286.3L295.6,286.3L293.9,286.0L291.6,284.7L290.7,284.9L288.8,284.1L286.4,282.9L286.5,281.6Z"/>
<path id="c86" d="M297.4,285.0L298.2,283.7L300.5,284.2L301.4,285.6L299.3,285.6L297.7,285.8Z"/>
<path id="c87" d="M299.0,292.8L298.5,291.2L298.0,289.2L297.2,289.0L297.4,288.0L296.9,287.1L297.2,286.2L298.7,286.6L299.1,287.8L300.7,288.0L302.3,288.2L302.2,289.0L301.0,289.5L301.2,290.4L301.5,290.9L302.0,290.4L302.6,290.8L303.2,292.5L302.9,293.5L303.1,294.3L302.2,294.6L300.6,294.3L299.0,293.9Z"/>
<path id="c88" d="M303.1,294.3L302.9,293.5L303.2,292.5L303.9,292.1L303.7,289.7L304.6,289.8L304.9,288.0L305.3,286.0L307.3,285.3L307.3,283.7L308.5,284.6L309.2,284.6L309.7,287.0L308.7,288.5L308.8,289.7L310.4,289.5L310.6,290.8L311.4,291.2L311.2,292.3L312.5,293.2L313.8,293.1L312.7,294.8L312.0,295.1L311.5,295.7L310.1,296.0L310.2,297.4L309.7,297.4L310.7,299.0L311.6,300.6L311.4,302.1L312.7,304.1L313.0,305.8L313.6,306.9L312.7,309.0L312.5,309.5L311.3,310.2L310.5,308.0L309.7,305.9L308.9,303.8L306.9,303.1L305.0,302.4L304.1,300.0L303.2,297.7L302.3,295.3Z"/>
<path id="c89" d="M312.7,294.8L312.0,295.1L311.5,295.7L310.1,296.0L310.2,297.4L309.7,297.4L310.7,299.0L311.6,300.6L311.4,302.1L312.7,304.1L313.0,305.8L313.6,306.9L312.7,309.0L312.5,309.5L311.8,312.3L314.0,314.8L314.8,314.5L315.7,314.8L316.1,315.6L316.9,315.4L317.3,314.8L317.7,313.7L316.4,311.6L315.1,309.5L315.2,308.0L315.3,306.6L317.3,307.8L317.7,307.1L317.5,306.1L316.8,304.4L317.0,304.4L317.7,303.3L319.0,303.3L320.2,303.3L320.6,303.2L320.5,301.8L319.3,300.4L319.1,299.0L318.0,297.7L316.7,297.6L315.7,297.9L314.6,298.9L314.5,297.4L314.3,296.0L313.5,296.0Z"/>
<path id="c90" d="M312.7,294.8L313.5,296.0L314.3,296.0L314.5,297.4L314.6,298.9L315.7,297.9L316.7,297.6L318.0,297.7L319.1,299.0L319.3,300.4L320.5,301.8L320.6,303.2L320.2,303.3L321.2,303.3L323.1,302.8L322.7,301.2L321.4,299.6L319.3,297.2L317.7,295.8L318.7,295.1L318.2,294.4L316.3,294.1L315.9,292.9L314.8,291.9L314.3,291.8L314.6,293.7L313.8,293.1Z"/>
<path id="c91" d="M317.7,307.1L317.5,306.1L316.8,304.4L317.0,304.4L317.7,303.3L319.0,303.3L320.2,303.3L321.2,303.3L323.1,302.8L323.2,304.5L323.4,306.1L322.2,307.1L321.4,307.1L322.0,308.3L320.6,308.1L319.8,308.9L318.7,309.5L317.3,307.8Z"/>
<path id="c92" d="M314.8,291.9L317.0,291.8L318.5,290.6L320.2,291.3L320.4,292.5L322.1,293.1L322.9,293.9L322.2,295.3L321.5,296.7L323.1,299.1L324.7,301.4L326.2,303.8L326.4,305.7L326.6,307.6L326.8,309.5L325.2,310.4L323.6,311.3L322.0,312.3L320.7,311.9L319.5,311.6L319.8,308.9L320.6,308.1L322.0,308.3L321.4,307.1L322.2,307.1L323.4,306.1L323.2,304.5L323.1,302.8L322.7,301.2L321.4,299.6L319.3,297.2L317.7,295.8L318.7,295.1L318.2,294.4L316.3,294.1L315.9,292.9Z"/>
<path id="c93" d="M314.8,314.5L315.7,314.8L316.1,315.6L316.9,315.4L317.3,314.8L318.4,314.4L319.3,316.5L320.2,318.7L321.1,320.8L319.6,321.5L319.1,321.9L317.0,320.6L314.9,319.4L314.5,317.1L314.0,314.8ZM326.9,320.7L327.0,321.8L328.0,322.4L329.6,322.2L330.1,321.5L332.0,321.8L333.1,321.5L333.7,319.6L334.3,318.7L334.3,317.7L336.5,317.7L336.8,317.7L339.1,317.2L339.0,315.1L338.9,313.0L336.7,313.0L334.5,313.0L332.5,314.9L330.6,316.8L328.6,318.7L326.7,320.1Z"/>
<path id="c94" d="M332.4,317.1L333.1,317.9L333.9,317.5L333.9,316.4L332.8,316.1Z"/>
<path id="c95" d="M366.1,326.4L366.0,329.1L365.8,331.7L365.6,334.4L365.4,337.0L367.6,337.5L369.9,338.0L372.1,338.4L374.3,338.9L376.5,339.4L378.7,339.9L379.1,337.2L379.3,334.5L379.5,331.8L379.7,329.1L379.8,326.4L377.5,326.4L375.2,326.4L373.0,326.4L370.7,326.4L368.4,326.4Z"/>
<path id="c96" d="M338.4,263.6L337.4,263.6L335.9,264.3L336.4,265.1L334.8,264.6L334.4,265.8L333.2,267.1L333.2,269.2L335.0,269.7L336.8,270.3L337.4,269.5L338.8,269.0L340.4,268.5L339.7,266.1L339.0,263.8Z"/>
<path id="c97" d="M336.8,270.3L337.4,269.5L338.8,269.0L341.1,269.9L342.0,271.8L342.9,273.6L343.7,275.5L341.9,275.5L340.2,275.5L338.4,275.5L337.3,273.0L336.2,270.6Z"/>
<path id="c98" d="M326.9,320.7L327.0,321.8L328.0,322.4L329.6,322.2L330.1,321.5L332.0,321.8L333.1,321.5L333.7,319.6L334.3,318.7L334.3,317.7L336.5,317.7L336.8,317.7L338.3,318.5L339.8,319.4L339.9,321.6L339.9,323.9L339.9,326.1L339.8,328.4L339.7,330.7L337.5,330.7L335.4,330.7L333.3,330.7L331.1,330.7L329.0,330.7L326.9,330.7L324.7,330.7L324.8,328.2L324.9,325.7L324.9,323.2L324.9,320.8ZM366.1,326.4L366.0,329.1L365.8,331.7L365.6,334.4L365.4,337.0L363.1,337.0L360.8,337.0L358.5,337.0L356.3,337.0L354.0,337.0L351.7,337.0L351.9,334.6L352.1,332.1L352.2,329.6L352.3,327.1L352.4,324.7L352.4,322.2L354.5,322.2L356.5,322.2L358.6,322.2L360.5,323.2L362.4,324.3L364.2,325.4Z"/>
<path id="c99" d="M187.4,274.0L187.9,274.5L188.0,275.9L188.5,278.2L186.5,278.3L185.6,278.8L185.7,279.8L184.1,280.5L183.2,281.7L181.5,281.7L179.6,283.0L179.5,284.5L177.7,284.5L175.9,284.5L174.1,284.5L173.1,283.3L175.0,281.5L176.9,279.8L178.1,277.9L179.3,276.0L180.6,274.1L182.1,273.0L183.6,272.0L185.3,272.3L187.1,272.7Z"/>
<path id="c100" d="M179.5,284.5L179.5,286.8L177.5,286.8L175.4,286.8L175.4,288.6L175.4,290.4L174.1,291.1L174.1,293.4L171.7,293.4L169.3,293.4L168.0,293.9L168.4,292.0L168.9,290.1L169.3,288.2L171.7,286.4L174.1,284.5L175.9,284.5L177.7,284.5Z"/>
<path id="c101" d="M187.4,274.0L187.9,274.5L188.0,275.9L188.5,278.2L186.5,278.3L185.6,278.8L185.7,279.8L184.1,280.5L183.2,281.7L181.5,281.7L179.6,283.0L179.5,285.0L181.8,286.6L184.0,288.2L186.1,289.8L188.1,291.4L190.2,292.9L192.2,294.5L192.5,295.1L193.9,295.8L193.9,296.6L195.2,296.5L197.0,295.9L198.7,294.5L200.5,293.1L202.5,291.7L204.6,290.3L204.1,289.2L202.5,288.8L202.0,286.1L201.9,283.6L201.4,280.9L200.8,278.2L199.9,277.6L199.2,276.7L199.7,274.6L199.9,273.0L200.0,271.4L199.3,269.9L197.4,270.1L195.4,270.3L193.5,270.6L191.6,270.8L189.6,271.0L187.7,271.3Z"/>
<path id="c102" d="M200.0,271.4L199.9,273.0L199.7,274.6L199.2,276.7L199.9,277.6L200.8,278.2L201.4,280.9L202.3,278.8L203.7,277.5L203.7,276.7L204.2,275.5L203.8,272.8L203.4,270.2L201.9,270.0L200.5,269.9Z"/>
<path id="c103" d="M203.7,276.7L203.7,277.5L202.3,278.8L201.4,280.9L201.9,283.6L202.0,286.1L202.5,288.8L204.1,289.2L204.6,290.3L206.6,291.0L207.3,291.8L208.3,291.1L210.5,292.1L212.8,293.1L215.0,294.0L217.2,295.0L219.5,296.0L219.4,295.3L220.7,295.3L220.6,293.9L220.6,292.5L220.5,289.9L220.3,287.4L220.2,284.8L220.0,282.2L219.6,281.0L220.0,278.8L219.7,276.9L217.7,276.7L215.7,276.5L213.7,276.2L211.7,276.0L209.7,275.8L207.7,275.5L206.0,275.5L204.2,275.5Z"/>
<path id="c104" d="M220.0,278.8L219.6,281.0L220.0,282.2L220.2,284.8L220.3,287.4L220.5,289.9L220.6,292.5L223.0,292.5L225.4,292.5L227.8,292.5L230.2,292.5L232.6,292.5L235.0,292.5L236.4,291.1L235.2,288.7L234.0,286.4L232.8,284.0L231.9,281.9L230.8,279.3L229.2,277.6L227.5,277.6L225.7,277.6L223.9,277.6L222.1,277.6L220.9,277.3L219.7,276.9Z"/>
<path id="c105" d="M169.1,294.2L169.3,293.4L171.7,293.4L174.1,293.4L174.1,291.1L175.4,290.4L175.4,288.6L175.4,286.8L177.5,286.8L179.5,286.8L179.5,285.0L181.8,286.6L184.0,288.2L182.2,288.3L182.3,290.3L182.5,292.4L182.7,294.4L182.9,296.4L183.0,298.5L183.2,300.5L183.2,301.7L181.5,301.7L179.8,301.7L178.2,301.7L176.8,302.2L175.8,301.8L174.9,302.9L174.1,302.0L173.5,300.9L172.0,300.1L170.7,300.4L169.9,300.3L169.6,300.9L167.8,301.0L167.8,298.6L167.9,296.3L168.0,293.9Z"/>
<path id="c106" d="M174.9,302.9L175.8,301.8L176.8,302.2L178.2,301.7L179.8,301.7L181.5,301.7L183.2,301.7L183.2,300.5L183.0,298.5L182.9,296.4L182.7,294.4L182.5,292.4L182.3,290.3L182.2,288.3L184.0,288.2L186.1,289.8L188.1,291.4L190.2,292.9L192.2,294.5L192.5,295.1L193.9,295.8L193.9,296.6L195.2,296.5L195.3,298.1L195.3,299.8L194.6,300.7L194.5,301.6L193.1,301.8L191.7,301.9L191.3,302.4L190.5,302.5L189.7,302.5L189.4,302.2L188.7,302.4L187.5,303.0L186.3,304.1L185.6,304.7L184.7,304.9L184.5,305.9L183.5,307.0L183.5,307.5L183.2,308.1L183.3,308.9L182.5,309.3L181.9,308.9L181.5,309.3L180.5,309.2L180.0,309.2L179.7,308.3L179.3,308.3L179.6,307.5L179.1,306.9L178.7,306.2L177.7,306.5L176.8,306.7L176.0,306.5L175.8,306.1L175.7,305.0L175.3,304.7L175.0,303.8Z"/>
<path id="c107" d="M169.6,300.9L169.9,300.3L170.7,300.4L172.0,300.1L173.5,300.9L174.1,302.0L174.9,302.9L175.0,303.8L175.3,304.7L175.7,305.0L175.8,306.1L174.7,306.1L173.0,305.8L170.8,305.7L169.3,306.1L167.7,306.2L167.7,303.6L167.8,301.0Z"/>
<path id="c108" d="M169.1,304.4L170.8,304.2L172.8,304.5L172.8,304.9L170.9,304.7L169.1,305.1Z"/>
<path id="c109" d="M169.3,306.1L170.8,305.7L173.0,305.8L173.0,307.1L171.7,307.3L171.4,308.1L170.1,308.2L168.9,308.3L168.9,306.2Z"/>
<path id="c110" d="M171.4,308.1L171.7,307.3L173.0,307.1L173.0,305.8L174.7,306.1L175.8,306.1L176.0,306.5L176.8,306.7L177.7,306.5L178.7,306.2L179.1,306.9L179.6,307.5L179.3,308.3L179.7,308.3L180.0,309.2L179.8,310.2L180.2,311.5L179.7,312.7L179.5,312.9L178.3,312.9L178.2,311.8L177.2,311.7L176.7,309.6L175.2,309.5L174.6,309.7L173.5,310.8L172.0,310.9L170.1,308.8Z"/>
<path id="c111" d="M173.5,310.8L174.6,309.7L175.2,309.5L176.7,309.6L177.2,311.7L176.9,312.6L175.7,313.8L174.4,314.4L173.5,313.0L172.6,311.6Z"/>
<path id="c112" d="M175.7,313.8L176.9,312.6L177.2,311.7L178.2,311.8L178.3,312.9L179.5,312.9L179.7,314.6L180.6,315.5L180.6,317.4L180.0,318.2L178.4,317.2L176.7,316.2L175.0,315.1Z"/>
<path id="c113" d="M180.6,317.4L180.6,315.5L179.7,314.6L179.5,312.9L179.7,312.7L180.2,311.5L179.8,310.2L180.0,309.2L180.5,309.2L181.5,309.3L181.9,308.9L182.5,309.3L183.3,308.9L184.0,309.7L185.9,309.6L186.6,310.0L186.6,312.1L185.9,314.8L186.1,316.4L186.3,317.9L184.4,318.0L182.5,318.1L180.6,318.2Z"/>
<path id="c114" d="M186.1,316.4L185.9,314.8L186.6,312.1L186.6,310.0L186.5,308.0L187.9,308.0L189.4,308.0L189.9,307.9L190.1,308.6L190.6,311.3L190.9,311.9L190.7,313.8L191.5,315.0L191.6,316.5L189.8,317.0L188.0,317.5L186.3,317.9Z"/>
<path id="c115" d="M191.5,315.0L190.7,313.8L190.9,311.9L190.6,311.3L190.1,308.6L189.9,307.9L191.1,308.0L191.0,308.9L192.0,310.9L192.0,312.3L192.1,313.8L192.2,314.8L192.2,315.8L191.5,315.8Z"/>
<path id="c116" d="M192.2,314.8L192.1,313.8L192.0,312.3L192.0,310.9L191.0,308.9L191.1,308.0L191.7,307.4L192.7,306.7L193.1,306.3L193.5,306.3L194.5,307.1L194.7,308.5L193.9,310.7L193.4,311.6L193.4,313.1L193.4,314.6L193.4,315.8L192.2,315.8Z"/>
<path id="c117" d="M183.3,308.9L183.2,308.1L183.5,307.5L183.5,307.0L184.5,305.9L184.7,304.9L185.6,304.7L186.3,304.1L187.5,303.0L188.7,302.4L189.4,302.2L189.7,302.5L190.5,302.5L190.4,303.2L190.5,303.8L191.2,304.7L191.2,305.4L192.7,305.7L192.7,306.7L191.7,307.4L191.1,308.0L189.9,307.9L189.4,308.0L187.9,308.0L186.5,308.0L186.6,310.0L185.9,309.6L184.0,309.7Z"/>
<path id="c118" d="M190.5,302.5L191.3,302.4L191.7,301.9L193.1,301.8L194.5,301.6L194.6,300.7L195.3,299.8L195.3,298.1L195.2,296.5L197.0,295.9L198.7,294.5L200.5,293.1L202.5,291.7L204.6,290.3L206.6,291.0L207.3,291.8L208.3,291.1L208.5,293.5L208.9,293.8L209.0,294.3L209.5,294.8L209.3,295.4L209.0,296.8L208.8,298.2L208.8,300.1L207.3,301.4L206.8,303.3L206.7,304.2L205.2,305.2L204.3,304.7L203.6,304.7L202.5,304.8L201.8,305.4L201.2,305.5L199.7,304.7L199.1,305.1L198.5,305.0L198.0,304.5L196.7,304.0L195.4,304.2L195.1,304.5L194.9,305.3L194.6,305.9L194.5,307.1L193.5,306.3L193.1,306.3L192.7,306.7L192.7,305.7L191.2,305.4L191.2,304.7L190.5,303.8L190.4,303.2Z"/>
<path id="c119" d="M193.4,314.6L193.4,313.1L193.4,311.6L193.9,310.7L194.7,308.5L194.5,307.1L194.6,305.9L194.9,305.3L195.1,304.5L195.4,304.2L196.7,304.0L198.0,304.5L198.5,305.0L199.1,305.1L199.7,304.7L201.2,305.5L201.8,305.4L202.5,304.8L203.6,304.7L204.3,304.7L205.2,305.2L206.7,304.2L207.6,306.0L207.9,307.3L206.9,308.3L206.5,309.2L206.4,310.0L206.1,310.3L205.9,311.3L205.2,311.8L205.0,312.6L204.7,313.1L204.6,313.7L203.8,314.2L203.1,313.6L202.6,313.6L201.9,314.5L201.5,314.5L200.9,315.9L200.6,316.9L200.4,318.2L198.6,318.2L196.8,318.2L195.0,318.2L193.4,315.8Z"/>
<path id="c120" d="M200.6,316.9L200.9,315.9L201.5,314.5L201.9,314.5L202.6,313.6L203.1,313.6L203.8,314.2L204.6,313.7L204.7,313.1L205.0,312.6L205.2,311.8L205.9,311.3L206.1,310.3L206.4,310.0L206.5,309.2L206.9,308.3L207.9,307.3L207.6,306.0L208.0,305.4L208.5,306.3L208.6,307.3L208.5,308.2L209.2,309.5L208.2,309.6L207.6,309.4L207.4,310.1L208.6,311.2L209.0,313.1L208.4,314.5L208.1,314.8L208.0,315.9L208.2,316.5L208.1,316.9L208.7,317.6L208.8,318.2L209.2,318.9L210.0,320.4L209.9,321.2L208.9,320.8L207.9,320.4L206.3,320.4L206.2,320.3L205.4,320.5L204.7,320.3L204.1,320.4L202.2,320.3L201.2,320.3L200.0,317.9Z"/>
<path id="c121" d="M206.7,304.2L206.8,303.3L207.3,301.4L208.8,300.1L208.8,298.2L209.0,296.8L209.3,295.4L209.5,294.8L209.0,294.3L208.9,293.8L208.5,293.5L208.3,291.1L210.5,292.1L212.8,293.1L215.0,294.0L217.2,295.0L219.5,296.0L219.3,295.9L219.4,298.7L219.5,301.5L218.4,301.4L217.9,302.5L217.6,303.3L217.9,303.7L217.5,304.1L217.6,304.7L217.3,305.3L217.2,305.8L217.6,305.7L217.9,306.3L217.9,307.1L218.4,307.5L218.4,307.8L217.6,308.1L217.0,308.7L216.1,310.2L215.0,310.9L213.8,310.8L213.4,310.9L213.5,311.4L212.9,311.9L212.4,312.4L210.8,313.0L210.5,312.7L210.3,312.6L210.1,313.0L209.0,313.1L208.6,311.2L207.4,310.1L207.6,309.4L208.2,309.6L209.2,309.5L208.5,308.2L208.6,307.3L208.5,306.3L208.0,305.4L207.6,306.0Z"/>
<path id="c122" d="M209.0,313.1L210.1,313.0L210.3,312.6L210.5,312.7L210.8,313.0L212.4,312.4L212.9,311.9L213.5,311.4L213.4,310.9L213.8,310.8L215.0,310.9L216.1,310.2L217.0,308.7L217.6,308.1L218.4,307.8L218.6,308.5L219.3,309.3L219.3,309.9L219.1,310.5L219.2,310.9L219.7,311.4L220.6,312.0L221.3,312.5L221.3,313.0L222.1,313.7L222.7,314.3L223.0,315.2L223.9,315.8L224.1,316.2L223.7,316.3L222.9,316.3L222.0,316.2L221.5,316.3L221.3,316.6L220.9,316.7L220.4,316.4L219.1,317.1L218.5,316.9L218.3,317.1L218.0,317.9L217.0,317.6L216.1,317.5L215.3,317.0L214.3,316.5L213.6,316.9L213.1,317.7L213.0,318.7L212.2,318.6L211.4,318.3L210.6,319.1L210.0,320.4L209.2,318.9L208.8,318.2L208.7,317.6L208.1,316.9L208.2,316.5L208.0,315.9L208.1,314.8L208.4,314.5Z"/>
<path id="c123" d="M220.6,292.5L220.6,293.9L220.7,295.3L219.4,295.3L219.5,296.0L219.3,295.9L219.4,298.7L219.5,301.5L218.4,301.4L217.9,302.5L217.6,303.3L217.9,303.7L217.5,304.1L217.6,304.7L217.3,305.3L217.2,305.8L217.6,305.7L217.9,306.3L217.9,307.1L218.4,307.5L218.4,307.8L218.6,308.5L219.3,309.3L219.3,309.9L219.1,310.5L219.2,310.9L219.7,311.4L220.1,311.3L220.5,311.0L220.8,309.7L221.2,309.1L222.1,308.9L222.3,309.3L222.9,310.1L223.3,310.2L223.7,310.0L224.6,310.0L224.8,310.3L226.0,310.3L226.1,310.0L226.7,309.8L226.8,309.3L227.3,309.0L228.4,309.9L229.0,309.7L229.6,308.7L230.2,307.9L230.1,307.1L229.8,306.7L230.5,306.6L230.6,306.3L231.2,306.4L231.1,307.4L231.3,308.4L231.9,309.0L232.1,309.5L232.1,310.2L232.3,310.1L232.6,308.6L233.1,308.2L233.3,307.6L233.8,306.5L234.5,305.8L234.9,304.4L235.1,303.2L234.9,302.6L235.4,300.6L235.4,299.6L235.8,299.2L236.7,299.0L237.3,298.1L237.9,296.7L237.2,294.3L236.4,291.8L235.0,292.5L232.6,292.5L230.2,292.5L227.8,292.5L225.4,292.5L223.0,292.5Z"/>
<path id="c124" d="M219.7,311.4L220.1,311.3L220.5,311.0L220.8,309.7L221.2,309.1L222.1,308.9L222.3,309.3L222.9,310.1L223.3,310.2L223.7,310.0L224.6,310.0L224.8,310.3L226.0,310.3L226.1,310.0L226.7,309.8L226.8,309.3L227.3,309.0L228.4,309.9L229.0,309.7L229.6,308.7L230.2,307.9L230.1,307.1L229.8,306.7L230.5,306.6L230.6,306.3L231.2,306.4L231.1,307.4L231.3,308.4L231.9,309.0L232.1,309.5L232.1,310.2L232.3,310.1L232.3,311.3L232.1,311.7L231.4,311.8L231.0,312.6L231.8,312.7L232.5,313.4L232.7,313.9L233.3,314.3L234.0,315.8L233.2,316.7L232.4,317.6L231.7,318.2L230.8,318.2L229.8,318.6L229.0,318.3L228.5,318.6L227.4,317.7L227.1,317.1L226.4,317.2L225.8,317.3L225.5,317.5L224.9,317.4L224.1,316.2L223.9,315.8L223.0,315.2L222.7,314.3L222.1,313.7L221.3,313.0L221.3,312.5L220.6,312.0Z"/>
<path id="c125" d="M237.3,298.1L236.7,299.0L235.8,299.2L235.4,299.6L235.4,300.6L234.9,302.6L235.1,303.2L236.5,303.5L236.9,302.4L237.7,303.1L238.4,302.8L238.7,303.1L239.5,303.1L240.6,303.6L241.0,304.1L241.5,304.6L242.1,305.4L242.5,305.9L243.4,305.6L243.9,305.2L242.3,303.1L240.6,301.0L239.6,299.2L238.6,297.4Z"/>
<path id="c126" d="M243.4,305.6L242.5,305.9L242.1,306.5L241.7,307.2L241.8,307.5L241.9,308.0L242.6,308.0L242.9,307.9L243.1,308.1L243.6,307.4L244.4,306.9L244.1,305.6Z"/>
<path id="c127" d="M235.1,303.2L236.5,303.5L236.9,302.4L237.7,303.1L238.4,302.8L238.7,303.1L239.5,303.1L240.6,303.6L241.0,304.1L241.5,304.6L242.1,305.4L242.5,305.9L242.1,306.5L241.7,307.2L241.8,307.5L241.9,308.0L242.6,308.0L242.9,307.9L243.1,308.1L243.4,309.4L243.9,310.1L244.3,310.6L246.4,311.5L248.5,312.3L249.5,312.3L247.8,314.4L246.1,316.5L244.5,316.6L243.4,317.6L242.6,317.6L242.2,318.1L241.4,318.1L240.9,317.6L239.7,318.2L239.4,318.8L238.5,318.7L238.3,318.5L238.0,318.5L237.6,318.5L236.0,317.3L235.1,317.3L234.7,316.8L234.7,316.0L234.0,315.8L233.3,314.3L232.7,313.9L232.5,313.4L231.8,312.7L231.0,312.6L231.4,311.8L232.1,311.7L232.3,311.3L232.3,310.1L232.6,308.6L233.1,308.2L233.3,307.6L233.8,306.5L234.5,305.8L234.9,304.4Z"/>
<path id="c128" d="M243.1,308.1L243.4,309.4L243.9,310.1L244.3,310.6L246.4,311.5L248.5,312.3L249.5,312.3L247.8,314.4L246.1,316.5L244.5,316.6L243.4,317.6L242.6,317.6L242.2,318.1L241.2,319.7L241.2,322.2L241.2,324.8L241.9,326.0L243.7,326.4L245.7,323.8L247.7,321.2L249.6,318.7L251.5,316.1L253.4,313.5L255.3,310.9L255.3,309.0L255.2,307.1L255.1,305.2L253.0,305.4L250.9,305.5L248.8,305.6L246.7,305.8L244.6,305.9L243.6,307.4Z"/>
<path id="c129" d="M241.9,326.0L241.2,324.8L241.2,322.2L241.2,319.7L242.2,318.1L241.4,318.1L240.9,317.6L239.7,318.2L239.4,318.8L238.5,318.7L238.3,318.5L238.0,318.5L237.6,318.5L236.0,317.3L235.1,317.3L234.7,316.8L234.7,316.0L234.0,315.8L233.2,316.7L232.4,317.6L233.0,318.6L233.2,319.3L233.8,320.9L233.3,321.9L232.7,322.9L232.3,323.4L232.3,324.9L234.7,326.5L237.1,328.0L237.1,328.8L238.9,330.2L240.5,330.4L241.5,328.4L242.5,326.4Z"/>
<path id="c130" d="M232.4,317.6L231.7,318.2L230.8,318.2L229.8,318.6L229.0,318.3L228.5,318.6L228.4,320.3L228.9,320.5L228.5,321.0L228.1,321.4L227.6,322.1L227.3,322.8L227.2,323.9L227.0,324.4L226.9,325.5L227.2,325.6L228.0,325.2L228.4,325.0L229.8,325.1L231.1,325.0L232.3,324.9L232.3,323.4L232.7,322.9L233.3,321.9L233.8,320.9L233.2,319.3L233.0,318.6Z"/>
<path id="c131" d="M226.9,325.5L227.2,325.6L228.0,325.2L228.5,326.0L228.4,326.8L228.0,327.0L227.4,326.9L227.0,327.7L226.2,327.6L226.4,326.8L226.5,326.7L226.6,325.9Z"/>
<path id="c132" d="M226.2,327.6L227.0,327.7L227.4,326.9L228.0,327.0L228.1,327.6L228.4,327.9L228.4,328.4L228.1,328.6L227.6,329.4L227.1,329.9L226.6,330.0L226.6,328.3Z"/>
<path id="c133" d="M238.9,330.2L237.1,328.8L237.1,328.0L234.7,326.5L232.3,324.9L231.1,325.0L229.8,325.1L228.4,325.0L228.0,325.2L228.5,326.0L228.4,326.8L228.0,327.0L228.1,327.6L228.4,327.9L228.4,328.4L228.1,328.6L227.6,329.4L227.1,329.9L226.6,330.0L226.8,331.3L226.7,332.0L226.9,332.8L227.6,333.6L228.3,335.4L228.8,335.7L229.3,336.0L230.1,336.2L230.8,336.7L231.3,337.3L232.2,337.3L232.6,338.0L232.9,339.9L233.8,339.8L235.3,340.2L235.7,340.0L236.5,340.0L237.0,339.5L237.7,339.6L239.1,339.0L240.1,338.2L241.0,337.7L240.8,335.3L240.7,332.8L240.5,330.4Z"/>
<path id="c134" d="M205.2,331.8L205.4,332.2L205.9,332.0L206.2,332.1L206.7,331.9L208.5,331.9L210.4,331.9L210.7,333.0L211.0,333.8L211.3,334.3L211.8,335.0L212.6,334.9L213.0,334.7L213.7,334.9L213.9,334.5L214.2,333.7L215.0,333.7L215.0,333.4L215.7,333.4L215.6,333.9L217.1,333.9L217.1,334.8L217.3,335.4L217.1,336.2L217.2,337.1L217.6,337.6L217.5,339.3L217.8,339.1L218.4,339.2L219.1,339.0L219.7,339.1L219.8,339.5L219.7,340.2L219.9,340.8L220.6,339.5L221.6,339.6L222.0,340.3L223.0,340.5L223.7,340.0L224.0,340.8L224.9,341.0L225.4,341.6L225.9,342.3L226.8,342.4L226.8,340.8L226.4,341.1L225.5,340.5L225.2,340.3L225.4,338.9L225.7,337.2L225.4,336.6L225.8,335.7L226.1,335.5L227.8,335.3L228.3,335.4L227.6,333.6L226.9,332.8L226.7,332.0L226.8,331.3L226.6,330.0L226.6,328.3L226.2,327.6L226.4,326.8L226.5,326.7L226.6,325.9L226.9,325.5L227.0,324.4L227.2,323.9L227.3,322.8L227.6,322.1L228.1,321.4L228.5,321.0L228.9,320.5L228.4,320.3L228.5,318.6L227.4,317.7L227.1,317.1L226.4,317.2L225.8,317.3L225.5,317.5L224.9,317.4L224.1,316.2L223.7,316.3L222.9,316.3L222.0,316.2L221.5,316.3L221.3,316.6L220.9,316.7L220.4,316.4L219.1,317.1L218.5,316.9L218.3,317.1L218.0,317.9L217.0,317.6L216.1,317.5L215.3,317.0L214.3,316.5L213.6,316.9L213.1,317.7L213.0,318.7L213.0,319.5L212.6,320.2L212.4,321.1L212.2,322.4L212.3,323.2L212.1,323.7L212.0,324.2L211.9,324.6L211.1,325.3L210.5,326.1L209.9,327.4L210.0,328.6L209.7,329.1L208.9,329.7L208.2,330.6L207.7,330.4L207.6,330.0L207.0,330.0L206.5,330.5L206.2,330.4L205.8,330.7L205.6,331.0L205.5,331.6Z"/>
<path id="c135" d="M203.8,329.2L204.8,328.5L204.3,327.5L204.8,327.1L205.6,327.0L205.7,326.4L206.4,327.0L207.5,327.1L207.9,326.4L208.0,325.5L207.9,324.4L207.3,323.5L207.8,321.9L207.5,321.6L206.6,321.7L206.2,321.0L206.3,320.4L207.9,320.4L208.9,320.8L209.9,321.2L210.0,320.4L210.6,319.1L211.4,318.3L212.2,318.6L213.0,318.7L213.0,319.5L212.6,320.2L212.4,321.1L212.2,322.4L212.3,323.2L212.1,323.7L212.0,324.2L211.9,324.6L211.1,325.3L210.5,326.1L209.9,327.4L210.0,328.6L209.7,329.1L208.9,329.7L208.2,330.6L207.7,330.4L207.6,330.0L207.0,330.0L206.5,330.5L206.2,330.4L205.7,329.9L205.4,330.1L204.9,330.7L203.1,330.0Z"/>
<path id="c136" d="M202.2,322.1L204.1,322.1L204.1,320.4L204.7,320.3L205.4,320.5L206.2,320.3L206.3,320.4L206.2,321.0L206.6,321.7L207.5,321.6L207.8,321.9L207.3,323.5L207.9,324.4L208.0,325.5L207.9,326.4L207.5,327.1L206.4,327.0L205.7,326.4L205.6,327.0L204.8,327.1L204.3,327.5L204.8,328.5L203.8,329.2L203.1,330.0L201.5,327.5L200.0,325.0L200.3,323.6L200.6,322.2Z"/>
<path id="c137" d="M202.2,320.3L204.1,320.4L204.1,322.1L202.2,322.1L201.2,322.2L201.2,320.3Z"/>
<path id="c138" d="M205.4,332.2L205.9,332.0L206.2,332.1L206.7,331.9L208.5,331.9L210.4,331.9L210.7,333.0L211.0,333.8L211.3,334.3L211.8,335.0L212.6,334.9L213.0,334.7L213.7,334.9L213.9,334.5L214.2,333.7L215.0,333.7L215.0,333.4L215.7,333.4L215.6,333.9L217.1,333.9L217.1,334.8L217.3,335.4L217.1,336.2L217.2,337.1L217.6,337.6L217.5,339.3L217.8,339.1L218.4,339.2L219.1,339.0L219.7,339.1L219.8,339.5L219.7,340.2L219.9,340.8L219.7,341.4L219.8,341.9L218.5,341.8L217.2,341.8L217.1,344.1L217.0,346.3L217.8,347.5L218.6,348.4L216.3,349.0L214.8,348.9L213.4,348.8L212.5,348.1L210.8,348.1L209.2,348.1L207.5,348.1L207.3,348.2L206.6,347.6L205.8,347.6L205.1,347.8L204.5,348.1L202.9,347.6L203.1,345.4L203.3,343.1L203.4,340.9L203.5,338.6L203.7,336.3L204.0,334.2L204.3,332.1ZM205.2,331.8L205.4,330.1L205.7,329.9L206.2,330.4L205.8,330.7L205.6,331.0L205.5,331.6L204.7,331.8L204.3,330.7Z"/>
<path id="c139" d="M219.8,341.9L218.5,341.8L217.2,341.8L217.1,344.1L217.0,346.3L217.8,347.5L218.6,348.4L219.6,348.1L220.4,348.1L220.9,348.5L220.9,348.6L221.1,348.7L222.5,348.8L222.9,349.0L223.3,349.0L224.0,348.0L225.1,346.9L225.6,346.8L225.7,346.3L226.5,345.7L227.4,345.5L227.3,344.5L229.2,343.9L231.1,343.4L230.5,343.0L231.3,341.2L231.1,340.0L231.4,338.9L231.6,338.5L231.3,337.3L230.8,336.7L230.1,336.2L229.3,336.0L228.8,335.7L228.3,335.4L227.8,335.3L226.1,335.5L225.8,335.7L225.4,336.6L225.7,337.2L225.4,338.9L225.2,340.3L225.5,340.5L226.4,341.1L226.8,340.8L226.8,342.4L225.9,342.3L225.4,341.6L224.9,341.0L224.0,340.8L223.7,340.0L223.0,340.5L222.0,340.3L221.6,339.6L220.6,339.5L219.9,340.8L219.7,341.4Z"/>
<path id="c140" d="M230.5,343.0L231.1,343.4L231.8,344.0L232.2,343.9L232.6,344.3L232.7,344.8L232.4,345.5L232.4,346.5L233.2,347.4L233.6,346.4L234.2,346.1L234.2,344.3L233.7,343.2L233.2,342.8L232.8,342.8L232.5,341.0L232.9,339.9L232.6,338.0L232.2,337.3L231.3,337.3L231.6,338.5L231.4,338.9L231.1,340.0L231.3,341.2Z"/>
<path id="c141" d="M240.1,338.2L239.1,339.0L237.7,339.6L237.0,339.5L236.5,340.0L235.7,340.0L235.3,340.2L233.8,339.8L232.9,339.9L232.5,341.0L232.8,342.8L233.2,342.8L233.7,343.2L234.2,344.3L234.2,346.1L233.6,346.4L233.2,347.4L232.4,346.5L232.4,345.5L232.7,344.8L232.6,344.3L232.2,343.9L231.8,344.0L231.1,343.4L229.2,343.9L227.3,344.5L227.4,345.5L227.5,346.1L228.5,346.0L229.1,346.3L229.3,346.7L229.9,346.8L230.5,347.2L230.4,349.0L230.2,350.0L230.1,351.1L230.2,351.5L230.0,352.3L229.9,352.4L229.5,353.5L228.1,355.1L228.6,357.1L228.9,358.1L228.5,359.6L228.6,360.1L228.8,361.4L229.7,361.4L231.1,361.8L233.1,359.7L235.1,357.5L234.8,355.7L234.5,353.8L234.2,351.9L236.1,350.5L238.0,349.1L239.9,347.6L241.9,346.2L242.0,344.1L242.1,342.0L242.1,339.9L242.2,337.7Z"/>
<path id="c142" d="M221.1,348.7L222.5,348.8L222.9,349.0L223.3,349.0L224.0,348.0L225.1,346.9L225.6,346.8L225.7,346.3L226.5,345.7L227.4,345.5L227.5,346.1L228.5,346.0L229.1,346.3L229.3,346.7L229.9,346.8L230.5,347.2L230.4,349.0L230.2,350.0L230.1,351.1L230.2,351.5L230.0,352.3L229.9,352.4L229.5,353.5L228.1,355.1L227.5,354.9L226.0,354.8L224.3,354.0L224.0,353.1L224.0,352.6L223.5,352.4L222.1,350.9L221.8,350.1L221.6,349.8Z"/>
<path id="c143" d="M221.1,348.7L221.6,349.8L221.8,350.1L222.1,350.9L223.5,352.4L224.0,352.6L224.0,353.1L224.3,354.0L226.0,354.8L224.2,355.9L223.1,356.9L222.6,357.9L222.2,358.4L221.5,358.5L221.3,359.2L221.2,359.6L220.4,360.0L219.4,359.9L218.8,359.5L218.3,359.3L217.7,359.7L217.4,360.3L216.8,360.8L216.2,361.4L215.3,361.5L215.0,361.0L215.2,360.2L214.5,358.8L214.2,358.6L214.3,356.6L214.3,354.5L215.5,354.4L215.6,351.9L215.7,349.4L216.7,349.4L218.6,348.9L219.0,349.4L219.8,348.9L220.2,348.9L220.9,348.6Z"/>
<path id="c144" d="M204.5,348.1L205.1,347.8L205.8,347.6L206.6,347.6L207.3,348.2L207.5,348.1L209.2,348.1L210.8,348.1L212.5,348.1L213.4,348.8L214.8,348.9L216.3,349.0L218.6,348.4L219.6,348.1L220.4,348.1L220.9,348.5L220.9,348.6L220.2,348.9L219.8,348.9L219.0,349.4L218.6,348.9L216.7,349.4L215.7,349.4L215.6,351.9L215.5,354.4L214.3,354.5L214.3,356.6L214.2,358.6L214.1,361.2L214.0,363.8L212.9,364.6L212.2,364.7L211.5,364.4L210.9,364.3L210.8,363.7L210.3,363.3L209.7,364.0L208.0,364.6L207.5,362.5L207.0,360.4L206.4,358.2L205.9,356.1L205.1,354.0L204.4,351.9L203.7,349.8L202.9,347.6Z"/>
<path id="c145" d="M209.7,364.0L210.3,363.3L210.8,363.7L210.9,364.3L211.5,364.4L212.2,364.7L212.9,364.6L214.0,363.8L214.1,361.2L214.2,358.6L214.5,358.8L215.2,360.2L215.0,361.0L215.3,361.5L216.2,361.4L216.8,360.8L217.4,360.3L217.7,359.7L218.3,359.3L218.8,359.5L219.4,359.9L220.4,360.0L221.2,359.6L221.3,359.2L221.5,358.5L222.2,358.4L222.6,357.9L223.1,356.9L224.2,355.9L226.0,354.8L227.5,354.9L228.1,355.1L228.6,357.1L228.9,358.1L228.5,359.6L228.6,360.1L228.8,361.4L229.7,361.4L231.1,361.8L230.2,363.7L229.2,365.6L228.2,367.4L226.1,369.6L223.9,371.7L221.7,373.8L219.6,373.9L217.5,374.1L215.4,374.2L213.2,374.4L211.1,374.5L210.4,372.4L209.6,370.3L208.8,368.1L208.0,366.0Z"/>
<path id="c146" d="M224.9,364.6L225.3,365.0L224.8,365.7L224.6,366.1L223.9,366.3L223.6,366.8L223.2,366.9L222.4,365.9L223.1,364.9L223.8,364.4L224.4,364.1Z"/>
<path id="c147" d="M228.8,361.4L228.5,362.0L227.8,362.2L227.1,361.4L227.2,360.9L227.5,360.4L227.7,360.0L228.0,359.9L228.6,360.1Z"/>
<path id="i0" d="M26.5,228.6L27.3,229.0L28.0,229.4L28.2,229.9L28.4,230.4L29.3,230.7L30.3,231.0L30.5,231.6L30.8,232.1L29.2,232.7L26.9,233.2L25.5,234.2L24.1,234.3L23.6,234.0L23.1,233.7L23.4,232.9L22.4,232.9L21.5,232.9L21.9,232.2L19.7,233.1L23.1,230.8Z"/>
<path id="i1" d="M251.2,340.6L252.2,342.7L252.3,344.1L252.4,345.5L251.5,345.7L251.2,347.4L250.8,349.2L250.1,350.9L249.5,352.6L248.9,354.0L248.4,355.4L247.8,357.2L247.1,359.0L244.9,359.8L243.5,359.0L243.3,356.7L242.9,354.7L244.3,352.3L244.1,350.5L244.5,348.5L244.8,346.5L247.2,345.8L248.4,344.5L249.5,342.7L250.5,341.1Z"/>
<path id="i2" d="M183.8,253.0L185.1,252.1L185.5,251.5L187.1,251.1L186.6,251.3L185.7,251.0L184.4,250.9L184.3,250.6L185.6,249.9L185.0,249.4L185.1,248.6L186.8,248.6L186.8,247.7L186.2,247.1L186.8,246.5L184.9,246.8L184.7,246.4L185.1,245.7L184.9,245.2L184.1,245.9L184.3,244.8L183.6,244.1L184.2,243.4L184.1,242.6L184.9,241.6L186.7,241.6L187.0,241.6L185.9,242.7L185.7,243.1L186.8,243.0L188.0,242.8L188.2,243.1L187.8,243.6L187.3,244.4L186.7,245.1L187.9,245.3L188.5,246.4L189.9,247.6L190.0,248.3L190.3,249.2L191.4,249.2L191.9,249.8L191.3,250.7L190.8,251.1L191.5,251.4L191.4,251.7L191.1,251.9L190.2,252.1L189.1,252.2L188.5,252.1L187.4,252.5L186.8,252.2L186.1,252.9L185.6,252.8L184.4,253.2Z"/>
<path id="i3" d="M182.3,245.9L183.6,246.1L184.1,246.9L184.2,247.3L183.5,247.7L183.5,248.7L183.3,250.2L183.2,250.2L181.2,250.7L179.5,251.2L178.9,250.3L179.7,249.6L180.5,248.8L179.2,248.6L179.4,247.7L181.1,247.3L180.9,246.8L181.4,246.1Z"/>
<path id="i4" d="M166.9,232.9L167.9,232.3L169.0,231.7L170.2,232.9L171.2,232.2L172.2,232.1L173.1,232.0L174.1,231.8L175.1,231.6L176.3,231.9L177.2,232.9L177.0,233.7L175.6,234.5L174.2,234.9L172.7,235.4L171.5,235.4L170.4,235.4L169.3,235.2L168.2,235.0L169.0,234.3L168.1,234.0L167.2,233.6L169.0,233.1L167.9,233.0Z"/>
<path id="i5" d="M198.2,217.0L199.4,216.8L200.5,216.6L201.6,216.5L202.9,216.4L204.2,216.3L205.4,216.2L206.8,216.2L208.2,216.3L209.5,216.3L210.9,216.4L210.3,216.8L209.6,217.2L208.6,217.3L207.6,217.5L206.6,217.7L207.7,218.7L206.5,219.1L205.2,219.5L204.0,220.0L202.6,219.5L201.3,219.0L200.0,218.3L198.7,217.7Z"/>
<path id="i6" d="M239.0,226.7L237.2,226.2L235.4,225.7L235.7,224.5L235.8,223.1L236.2,222.4L236.7,221.7L237.7,221.3L238.6,220.8L239.6,220.4L240.7,220.2L241.7,220.0L242.8,219.8L243.9,219.5L245.1,219.6L246.3,219.6L245.5,220.1L244.7,220.6L243.6,221.0L242.4,221.3L241.3,221.7L240.6,222.2L239.9,222.8L239.3,223.9L239.0,225.1L241.1,226.5L240.1,226.6Z"/>
<path id="i7" d="M265.0,217.5L265.4,216.7L265.7,216.0L266.1,215.4L268.1,215.9L270.1,216.4L272.2,217.0L273.1,218.2L272.2,218.3L271.2,218.4L270.3,218.5L269.0,218.3L267.7,218.2L266.5,218.0Z"/>
<path id="i8" d="M304.4,221.1L305.1,220.9L305.8,220.6L306.5,220.4L308.3,220.6L310.1,220.9L311.9,221.1L313.3,221.3L314.8,221.4L316.2,221.5L315.8,222.0L314.5,222.0L313.1,221.9L311.8,221.9L310.4,221.8L309.4,222.0L308.4,222.1L306.9,222.0L305.4,221.8Z"/>
<path id="i9" d="M309.5,222.9L310.8,222.9L312.1,222.9L313.7,223.7L312.3,223.7L310.9,223.6Z"/>
<path id="i10" d="M226.4,216.3L227.5,216.1L228.6,216.0L229.8,215.8L230.9,215.7L232.0,215.6L233.3,215.5L234.6,215.5L235.9,215.4L237.2,215.4L238.5,215.6L239.8,215.7L238.6,215.9L237.4,216.1L236.2,216.3L235.0,216.5L233.8,216.5L232.6,216.5L231.3,216.5L230.1,216.5L228.9,216.6L227.6,216.4Z"/>
<path id="i11" d="M348.3,226.2L348.6,225.7L349.8,226.4Z"/>
<path id="i12" d="M31.4,225.7L32.2,225.8L33.0,226.0L31.6,226.2L30.2,226.4Z"/>
<path id="i13" d="M204.5,269.9L205.6,269.6L206.8,269.5L208.1,269.5L207.6,270.6L207.7,271.7L206.7,271.4L205.0,270.4Z"/>
<path id="i14" d="M199.4,265.7L200.5,265.2L201.3,266.4L201.1,268.2L200.4,268.3L199.7,268.5L199.7,266.5Z"/>
<path id="i15" d="M200.6,262.9L200.8,264.0L200.5,265.1L199.8,264.4L199.8,263.4Z"/>
<path id="i16" d="M217.6,273.3L219.3,273.5L220.9,273.7L220.6,274.1L219.2,274.0L217.8,273.8Z"/>
<path id="i17" d="M228.0,274.0L228.8,273.5L230.6,273.1L230.0,274.1L228.9,274.7Z"/>
<path id="i18" d="M201.4,245.5L202.9,244.9L203.1,245.7L202.5,246.5L201.7,246.1Z"/>
<path id="i19" d="M339.0,247.3L341.0,248.4L343.1,250.4L344.5,251.8L345.8,253.2L347.7,254.5L348.3,255.0L345.9,254.3L347.4,256.6L349.2,258.0L348.0,258.7L346.5,256.6L345.1,254.5L343.9,253.2L342.6,251.8L340.8,249.8Z"/>
<path id="i20" d="M348.4,259.4L350.6,260.8L352.0,260.9L353.4,261.0L354.9,262.4L353.7,263.0L353.1,264.3L350.8,263.4L350.4,263.8L349.6,263.8L350.5,264.5L349.9,265.0L348.7,263.4L349.5,262.6L349.6,261.6L348.6,260.1Z"/>
<path id="i21" d="M351.1,265.0L351.6,265.1L352.5,266.4L353.8,267.6L353.7,269.5L354.6,271.3L355.4,273.1L354.9,274.1L354.3,273.4L353.8,274.7L353.0,274.7L351.6,274.7L351.7,275.1L350.9,276.3L349.6,275.2L349.6,274.7L348.1,274.8L346.4,275.1L344.9,275.5L344.5,275.0L345.0,274.8L346.3,273.4L347.6,273.3L349.5,273.3L349.3,272.4L349.5,270.9L350.0,270.6L350.3,271.6L351.6,269.9L351.3,267.3L350.7,266.2L350.5,265.4Z"/>
<path id="i22" d="M344.8,275.7L346.0,276.1L346.3,276.7L346.8,277.2L346.7,278.5L346.5,279.3L346.2,279.8L345.5,279.5L345.0,278.1L344.1,277.4L343.5,276.5L344.4,276.1Z"/>
<path id="i23" d="M346.7,275.5L346.5,276.5L347.3,276.9L348.0,277.4L348.1,276.2L349.1,276.6L349.3,275.7L348.2,275.0L347.2,275.4Z"/>
<path id="i24" d="M337.6,287.8L338.3,288.2L338.1,289.7L338.0,291.1L337.8,292.5L337.8,292.6L336.7,291.4L336.4,290.4L336.9,288.8L337.2,288.1Z"/>
<path id="i25" d="M323.5,296.3L324.3,295.3L325.7,295.2L326.3,295.9L325.9,297.0L324.8,297.9L323.7,297.4Z"/>
<path id="i26" d="M289.4,309.7L290.5,310.4L291.1,311.6L292.0,313.3L291.8,314.4L290.5,315.3L289.7,314.8L289.4,313.7L289.2,312.0L289.5,310.9Z"/>
<path id="i27" d="M338.4,297.4L340.3,297.4L340.8,299.6L340.2,301.0L340.4,302.4L340.7,303.5L342.0,303.4L343.6,304.1L343.9,305.8L342.9,305.2L341.8,304.4L340.8,303.9L339.9,304.2L339.3,303.5L339.6,303.0L339.1,303.2L338.3,302.0L337.9,300.6L338.5,300.8L338.4,298.9Z"/>
<path id="i28" d="M339.0,304.5L340.2,304.7L340.7,305.8L340.4,306.3L339.8,305.6Z"/>
<path id="i29" d="M344.2,305.9L345.4,305.9L346.1,307.8L345.6,309.0L345.4,309.5L345.1,309.2L344.6,308.2L344.5,307.3Z"/>
<path id="i30" d="M341.4,306.8L342.8,307.3L342.4,308.8L341.5,308.8Z"/>
<path id="i31" d="M343.1,308.2L344.0,307.8L344.1,309.0L343.5,310.2L343.3,310.7L342.5,310.2L342.2,309.5Z"/>
<path id="i32" d="M342.2,313.8L342.3,312.6L343.6,311.4L344.2,312.3L345.2,311.6L346.1,309.7L347.2,311.6L347.7,313.3L347.3,314.7L346.5,313.7L346.4,315.7L344.8,314.8L344.5,313.7L343.6,313.0L343.0,313.1Z"/>
<path id="i33" d="M335.9,311.7L336.8,310.6L337.6,309.1L338.4,307.6L338.5,308.9L337.4,310.6L336.3,311.9Z"/>
<path id="i34" d="M308.8,315.7L310.2,316.0L311.6,316.2L313.2,318.2L315.2,320.1L316.8,321.1L318.7,322.5L319.7,323.6L319.3,325.0L320.5,326.1L321.0,326.9L322.3,327.8L322.1,330.0L321.9,331.8L320.4,331.8L319.7,330.7L317.7,329.0L316.6,327.0L315.4,325.0L313.7,323.2L313.4,321.2L311.9,320.1L310.4,318.4L309.0,316.7Z"/>
<path id="i35" d="M321.1,333.2L322.2,331.9L323.1,332.2L325.2,332.8L327.6,333.4L328.4,332.7L330.4,333.8L332.5,334.6L332.5,335.9L330.3,335.5L328.6,335.1L327.0,334.8L325.1,334.6L323.9,334.3L322.7,334.1Z"/>
<path id="i36" d="M332.6,335.1L334.1,335.2L335.3,335.3L335.2,336.2L334.1,336.0L332.7,335.6Z"/>
<path id="i37" d="M335.4,335.5L336.7,335.1L338.4,335.5L338.1,336.0L336.2,336.3L335.4,336.2Z"/>
<path id="i38" d="M339.3,335.5L341.3,335.5L343.1,335.2L342.8,335.9L340.6,336.2L339.2,336.0Z"/>
<path id="i39" d="M338.0,337.0L339.5,336.9L340.2,337.9L339.2,338.2L338.0,337.5Z"/>
<path id="i40" d="M343.5,338.2L344.9,336.6L345.7,336.2L345.6,337.0L344.2,338.0Z"/>
<path id="i41" d="M345.7,336.2L346.2,335.8L348.5,335.5L347.4,336.5L345.6,337.0Z"/>
<path id="i42" d="M339.9,322.2L341.1,321.8L342.4,322.0L343.6,322.2L344.9,321.7L346.1,321.2L346.4,321.6L345.5,322.9L343.6,323.0L342.4,323.0L341.1,322.9L340.0,323.3L339.9,324.9L340.9,325.4L341.8,324.9L344.0,324.4L344.1,325.0L342.4,325.9L341.9,326.4L342.7,328.1L343.5,329.3L343.2,330.4L342.2,330.4L341.6,329.5L341.1,327.6L340.3,328.5L340.2,330.0L340.1,331.4L339.0,331.5L338.9,330.8L339.3,329.3L338.3,327.6L339.0,325.7L339.6,323.7Z"/>
<path id="i43" d="M349.3,322.2L349.8,320.5L350.6,321.5L350.8,323.2L350.1,324.7L349.5,324.0Z"/>
<path id="i44" d="M349.8,328.1L351.1,327.6L353.3,328.3L352.9,328.8L351.0,328.5Z"/>
<path id="i45" d="M347.3,328.1L348.6,328.0L348.8,328.7L347.5,329.0Z"/>
<path id="i46" d="M374.9,331.7L377.1,331.4L379.0,330.5L380.1,329.5L379.6,330.7L378.3,332.1L376.4,332.5Z"/>
<path id="i47" d="M378.3,327.3L380.4,328.5L380.9,330.2L380.4,329.3L378.8,327.8Z"/>
<path id="i48" d="M382.9,331.4L384.3,332.8L384.0,333.4L382.9,332.1Z"/>
<path id="i49" d="M385.0,333.5L386.2,334.1L385.5,334.5Z"/>
<path id="i50" d="M388.4,336.8L390.0,337.2L389.3,337.6L388.5,337.3Z"/>
<path id="i51" d="M390.1,335.5L390.7,336.8L390.3,337.0L389.8,335.8Z"/>
<path id="i52" d="M390.5,338.0L391.7,338.6L391.3,338.9L390.5,338.4Z"/>
<path id="i53" d="M396.1,344.4L396.8,344.8L396.4,345.8L395.9,345.4Z"/>
<path id="i54" d="M396.5,346.2L397.1,346.6L396.8,347.1Z"/>
<path id="i55" d="M397.1,348.3L397.7,348.6L397.2,348.9Z"/>
<path id="i56" d="M391.2,352.0L392.8,353.0L394.0,355.1L393.3,355.1L391.8,353.3Z"/>
<path id="i57" d="M408.4,348.5L409.6,348.1L410.1,348.8L409.3,349.5L408.4,349.2Z"/>
<path id="i58" d="M410.3,347.4L412.1,346.5L412.1,347.1L410.7,347.6Z"/>
<path id="i59" d="M367.1,338.7L368.0,341.3L368.0,343.8L369.6,345.5L369.8,347.5L370.1,349.1L370.4,350.8L372.1,352.2L372.7,353.6L374.1,355.4L374.0,356.8L375.4,358.7L376.0,359.7L375.1,362.3L375.0,364.0L373.2,366.7L371.5,369.1L369.0,371.5L367.3,373.4L365.5,375.2L364.7,376.6L363.4,376.9L362.1,377.2L359.3,378.9L358.4,377.6L357.7,377.7L356.1,378.6L354.3,377.9L353.1,376.6L353.6,374.5L352.7,373.9L353.2,372.8L353.5,371.0L351.2,373.4L352.7,371.7L353.8,369.6L352.2,371.3L350.1,373.0L349.7,371.4L349.4,370.0L349.2,369.0L347.8,368.6L346.3,368.1L345.1,368.3L343.8,368.4L341.9,368.9L339.9,369.3L338.5,369.8L337.2,370.3L336.1,371.5L334.2,371.5L331.9,371.5L330.4,372.3L328.8,373.1L327.4,372.7L325.9,372.2L327.2,370.7L327.8,368.9L327.7,366.7L327.9,364.3L327.8,362.5L327.4,360.6L327.9,359.0L328.6,356.8L329.4,354.4L329.8,355.4L331.3,354.0L333.1,352.9L335.4,352.3L337.0,351.9L338.5,351.5L340.4,349.1L340.8,347.6L342.3,348.1L342.4,346.6L343.9,345.5L345.7,343.8L347.2,343.1L348.5,344.8L350.3,344.7L350.4,342.7L352.3,341.1L352.8,340.7L354.5,340.7L354.2,339.4L355.7,340.3L357.5,340.9L359.8,340.6L359.2,342.3L358.3,343.1L357.6,344.5L358.6,345.9L360.1,346.6L361.5,347.4L362.0,348.3L363.5,348.3L364.2,346.9L364.9,345.5L365.2,344.1L365.4,342.7L365.9,341.3L366.4,339.4Z"/>
<path id="i60" d="M356.0,381.1L357.7,381.7L359.9,381.4L358.9,382.9L357.5,384.6L355.7,385.2L354.9,385.0L355.2,383.2Z"/>
<path id="i61" d="M393.9,372.2L394.3,373.1L394.6,374.5L394.3,375.6L395.4,375.2L395.0,376.6L396.4,376.8L397.8,376.9L396.2,378.3L394.5,379.2L393.4,380.4L390.1,382.4L389.9,382.0L391.4,380.6L391.6,380.0L390.7,379.6L390.8,379.2L391.4,378.7L392.9,377.6L393.7,376.3L394.0,374.9L393.8,373.4Z"/>
<path id="i62" d="M388.3,380.8L388.4,381.5L388.2,382.0L389.6,381.5L388.9,382.5L387.4,383.5L385.2,385.5L382.5,386.3L381.3,387.3L380.1,388.4L377.9,389.3L376.6,389.3L375.1,388.8L375.8,387.8L378.3,386.6L379.8,385.7L382.4,384.6L384.6,383.5L385.8,382.5L387.2,381.4Z"/>
<path id="i63" d="M375.4,389.6L376.1,389.8L375.5,390.3L375.0,390.2Z"/>
<path id="i64" d="M256.2,305.8L257.6,305.8L257.4,306.2L256.4,306.2Z"/>
<path id="i65" d="M146.1,240.0L145.3,239.4L144.5,238.8L143.4,238.3L142.3,237.9L141.4,236.2L140.5,234.5L140.4,232.9L140.1,231.0L141.1,229.2L142.5,228.8L143.8,228.4L142.4,228.0L141.0,227.6L141.4,226.8L142.6,226.5L143.9,226.2L143.1,225.5L142.3,224.8L141.5,224.2L141.7,222.2L141.2,221.1L139.9,220.9L138.6,220.6L137.4,220.6L136.1,220.6L134.9,220.6L134.1,220.3L133.3,220.1L132.9,219.5L132.5,219.0L132.1,218.6L131.7,218.2L133.4,217.8L135.1,217.4L136.8,217.0L138.4,216.5L140.0,216.0L141.5,215.6L143.0,215.1L144.5,214.9L146.0,214.8L147.4,214.6L148.9,214.4L150.2,214.3L151.5,214.3L152.8,214.2L154.1,214.1L155.4,214.1L156.6,214.0L158.0,213.9L159.3,213.8L160.6,213.7L161.9,213.6L163.2,213.5L164.6,213.4L165.9,213.4L167.0,213.4L168.1,213.5L169.3,213.5L170.4,213.6L171.6,213.7L172.7,214.0L173.8,214.3L175.0,214.7L176.2,214.8L177.3,214.8L178.5,214.9L179.7,215.0L180.9,215.1L179.7,215.6L178.5,216.0L177.2,216.5L175.9,217.0L174.7,218.5L174.4,220.1L173.2,221.7L172.0,223.4L170.7,225.1L170.4,226.8L168.8,228.0L167.5,228.6L166.3,229.2L165.0,229.4L163.7,229.6L162.4,229.8L160.9,230.4L159.4,231.0L157.7,231.7L156.1,232.5L154.6,232.7L153.2,233.4L151.8,234.1L150.3,236.0L148.2,237.9L147.2,239.4Z"/>
<path id="i66" d="M126.3,237.4L124.9,237.0L123.5,236.6L122.0,236.2L121.1,235.3L120.2,234.3L118.7,234.3L117.1,234.2L115.6,234.1L117.3,232.9L118.7,232.9L120.1,232.9L122.1,231.3L123.3,230.0L122.3,229.7L121.3,229.4L120.2,228.7L119.1,228.0L118.6,227.4L117.5,227.4L116.4,227.4L115.0,227.4L113.7,227.4L112.8,226.8L112.0,226.2L111.8,225.4L111.7,224.5L113.5,223.0L114.8,223.0L116.0,223.0L117.3,223.0L118.4,223.1L119.5,223.1L120.6,223.1L121.6,223.5L122.6,223.9L123.9,223.4L124.1,224.2L125.0,224.6L125.8,225.1L126.6,225.5L127.6,226.1L128.5,226.7L128.9,227.5L129.4,228.2L130.1,229.3L130.9,230.4L131.8,230.9L132.7,231.4L131.2,232.4L129.7,233.5L127.7,234.7L127.7,235.6Z"/>
<path id="i67" d="M85.0,227.4L85.0,226.5L85.1,225.7L86.9,224.9L88.6,224.2L90.2,223.9L91.7,223.7L92.8,223.8L93.9,223.9L94.9,223.9L96.4,223.9L97.8,223.9L99.3,223.9L100.0,224.5L100.7,225.1L100.0,226.2L99.3,227.4L97.4,228.6L96.1,228.7L94.8,228.8L93.5,228.8L92.3,228.8L91.1,228.8L89.9,228.8L88.5,229.0L87.2,229.1L85.9,229.2L85.0,228.9L84.2,228.6Z"/>
<path id="i68" d="M80.0,225.2L82.0,224.3L84.0,223.4L85.7,222.9L87.4,222.4L88.6,222.6L89.8,222.8L90.3,223.1L90.8,223.4L88.8,224.2L86.7,225.1L85.0,225.4L83.2,225.8L82.2,225.9L81.2,226.0L80.6,225.6Z"/>
<path id="i69" d="M113.5,218.0L115.6,217.0L117.6,216.0L119.2,215.6L120.7,215.2L122.2,214.8L123.6,214.7L125.1,214.5L126.6,214.3L128.0,214.2L129.5,214.0L130.9,213.8L132.1,213.8L133.4,213.8L134.6,213.8L135.9,213.8L137.1,213.8L138.4,213.8L139.4,213.9L140.5,213.9L141.6,214.0L142.7,214.1L143.8,214.2L142.7,214.7L141.5,215.1L140.3,215.4L139.0,215.7L137.7,216.0L136.3,216.3L135.0,216.6L133.6,217.0L132.3,217.3L130.9,217.6L129.5,218.0L128.2,218.5L126.9,219.0L125.4,219.7L124.0,220.3L122.7,220.3L121.3,220.2L120.0,220.2L118.9,220.1L117.9,220.1L116.8,220.1L117.5,218.7L116.5,218.6L115.5,218.6L114.5,218.5L114.0,218.2Z"/>
<path id="i70" d="M112.2,222.1L113.6,222.1L115.1,222.1L116.5,222.1L118.0,222.1L119.4,222.1L120.9,222.1L122.3,222.1L123.7,221.0L122.5,220.9L121.2,220.7L119.9,220.6L118.7,220.4L117.4,220.3L116.1,220.3L114.8,220.2L113.5,220.2L112.2,220.2L110.9,220.2L110.7,221.1L111.4,221.6Z"/>
<path id="i71" d="M91.9,221.5L94.1,220.8L96.3,220.1L97.5,220.1L98.7,220.1L100.0,220.1L101.2,220.1L101.8,220.6L102.3,221.1L101.1,221.5L99.8,221.9L98.4,222.0L97.0,222.1L95.7,222.2L94.3,222.2L93.5,222.0L92.7,221.7Z"/>
<path id="i72" d="M102.5,221.7L104.3,221.3L106.0,220.9L107.7,220.5L109.4,220.1L110.0,220.5L110.7,220.9L111.3,221.4L110.2,221.6L109.0,221.9L107.8,221.7L106.6,221.5L105.4,221.4L104.0,221.5Z"/>
<path id="i73" d="M101.3,224.5L103.0,223.7L104.7,222.8L105.7,223.1L106.7,223.4L105.1,225.1L103.7,225.4L102.3,225.7L101.8,225.1Z"/>
<path id="i74" d="M106.8,224.2L109.0,222.8L110.2,222.9L111.4,223.0L112.6,223.0L110.8,224.5L109.3,224.8L107.7,225.1L107.2,224.6Z"/>
<path id="i75" d="M99.6,228.6L101.0,228.1L102.4,227.5L103.0,227.9L103.6,228.2L101.9,229.2L100.7,228.9Z"/>
<path id="i76" d="M106.6,234.7L109.0,232.6L110.1,232.4L111.1,232.2L111.9,233.2L112.7,234.1L112.6,235.1L110.8,235.5L109.1,236.0L108.2,235.9L107.3,235.7Z"/>
<path id="i77" d="M124.7,256.5L125.9,255.2L126.9,253.9L127.9,252.5L129.2,251.7L130.5,251.0L129.5,252.5L129.7,253.4L130.7,253.8L131.7,254.1L131.8,255.6L131.9,256.6L130.7,257.9L129.6,257.6L128.6,257.4L127.6,257.0L126.7,256.5Z"/>
<path id="i78" d="M51.7,252.1L53.1,252.5L54.5,252.9L54.8,255.4L53.4,255.1L52.4,253.9Z"/>
<path id="i79" d="M50.4,247.5L51.5,247.7L50.7,249.1L50.0,250.4L49.5,249.1Z"/>
<path id="i80" d="M32.3,243.1L33.9,242.6L35.5,242.2L34.2,243.4L31.8,244.0Z"/>
<path id="i81" d="M24.3,235.5L26.5,235.1L27.1,235.6L24.8,236.0Z"/>
<path id="i82" d="M23.4,239.6L25.2,239.4L24.3,240.1L23.1,240.1Z"/>
<path id="i83" d="M-1.7,296.7L-1.2,295.0L-0.4,295.5L-0.1,296.0L-1.3,296.8Z"/>
<path id="i84" d="M-2.0,294.0L-1.3,293.9L-1.2,294.3L-1.8,294.5Z"/>
<path id="i85" d="M-3.7,293.2L-3.1,292.9L-3.0,293.5L-3.5,293.5Z"/>
<path id="i86" d="M-5.3,292.3L-4.8,292.2L-4.8,292.6L-5.3,292.6Z"/>
<path id="i87" d="M86.2,292.6L88.7,291.1L89.5,290.9L91.8,290.9L93.5,291.9L95.2,292.8L97.3,293.9L99.1,295.0L98.0,295.5L97.0,295.4L94.6,295.5L95.4,294.5L93.9,293.9L92.4,292.9L91.2,292.6L90.0,292.2L88.0,292.2Z"/>
<path id="i88" d="M98.3,297.6L99.6,297.5L100.9,297.4L100.6,296.3L99.9,295.6L102.0,295.7L101.7,297.3L101.7,298.6L100.8,297.9L99.1,298.1Z"/>
<path id="i89" d="M102.0,295.7L102.0,295.5L104.1,295.6L105.0,296.3L105.9,297.3L105.1,297.6L104.0,297.5L102.6,297.9L101.7,298.6L101.7,297.3Z"/>
<path id="i90" d="M93.5,297.6L94.8,297.8L96.1,298.0L95.3,298.4L93.7,297.9Z"/>
<path id="i91" d="M107.3,297.4L109.3,297.6L108.9,298.2L107.3,298.1Z"/>
<path id="i92" d="M113.2,308.5L114.3,308.3L114.2,309.3L113.0,309.3Z"/>
<path id="i93" d="M95.0,288.0L95.5,288.4L95.4,289.7L94.8,289.2Z"/>
<path id="i94" d="M124.6,396.1L126.1,395.7L128.1,396.2L127.6,397.2L126.6,397.1L125.5,397.0Z"/>
<path id="i95" d="M159.8,302.5L161.1,302.0L160.9,302.5Z"/>
<path id="i96" d="M158.8,299.4L159.3,299.3L159.2,299.8Z"/>
<path id="i97" d="M161.6,300.7L162.0,300.7L161.8,301.1Z"/>
<path id="i98" d="M169.6,283.4L170.6,283.2L170.2,284.0Z"/>
<path id="i99" d="M170.9,283.9L171.4,283.9L171.2,284.4Z"/>
<path id="i100" d="M172.5,283.9L173.3,283.0L173.2,283.7Z"/>
<path id="i101" d="M260.3,352.0L260.9,352.2L260.6,352.6Z"/>
<path id="i102" d="M257.7,353.2L258.3,353.4L257.9,353.9Z"/>
<path id="i103" d="M243.6,339.9L244.0,340.1L243.7,340.4Z"/>
<mask id="lm" maskUnits="userSpaceOnUse" x="-40" y="150" width="520" height="300"><use href="#L" fill="#fff" stroke="#fff" stroke-width="0.7"/></mask>
<mask id="dm1" maskUnits="userSpaceOnUse" x="-40" y="150" width="520" height="300"><rect x="-40" y="150" width="520" height="300" fill="#000"/><use href="#c0" fill="#fff"/><use href="#c1" fill="#fff"/><use href="#c2" fill="#fff"/><use href="#c3" fill="#000"/><use href="#c4" fill="#000"/><use href="#c5" fill="#000"/><use href="#c6" fill="#000"/><use href="#c7" fill="#000"/><use href="#c8" fill="#000"/><use href="#c9" fill="#000"/><use href="#c10" fill="#fff"/><use href="#c11" fill="#fff"/><use href="#c12" fill="#fff"/><use href="#c13" fill="#fff"/><use href="#c14" fill="#000"/><use href="#c15" fill="#000"/><use href="#c16" fill="#fff"/><use href="#c17" fill="#000"/><use href="#c18" fill="#fff"/><use href="#c19" fill="#fff"/><use href="#c20" fill="#000"/><use href="#c21" fill="#000"/><use href="#c22" fill="#000"/><use href="#c23" fill="#000"/><use href="#c24" fill="#fff"/><use href="#c25" fill="#fff"/><use href="#c26" fill="#fff"/><use href="#c27" fill="#000"/><use href="#c28" fill="#000"/><use href="#c29" fill="#000"/><use href="#c30" fill="#000"/><use href="#c31" fill="#000"/><use href="#c32" fill="#000"/><use href="#c33" fill="#fff"/><use href="#c34" fill="#fff"/><use href="#c35" fill="#fff"/><use href="#c36" fill="#fff"/><use href="#c37" fill="#fff"/><use href="#c38" fill="#000"/><use href="#c39" fill="#fff"/><use href="#c40" fill="#fff"/><use href="#c41" fill="#fff"/><use href="#c42" fill="#fff"/><use href="#c43" fill="#fff"/><use href="#c44" fill="#fff"/><use href="#c45" fill="#000"/><use href="#c46" fill="#000"/><use href="#c47" fill="#000"/><use href="#c48" fill="#000"/><use href="#c49" fill="#000"/><use href="#c50" fill="#000"/><use href="#c51" fill="#000"/><use href="#c52" fill="#000"/><use href="#c53" fill="#000"/><use href="#c54" fill="#000"/><use href="#c55" fill="#000"/><use href="#c56" fill="#000"/><use href="#c57" fill="#000"/><use href="#c58" fill="#fff"/><use href="#c59" fill="#000"/><use href="#c60" fill="#fff"/><use href="#c61" fill="#000"/><use href="#c62" fill="#000"/><use href="#c63" fill="#000"/><use href="#c64" fill="#000"/><use href="#c65" fill="#000"/><use href="#c66" fill="#fff"/><use href="#c67" fill="#fff"/><use href="#c68" fill="#fff"/><use href="#c69" fill="#fff"/><use href="#c70" fill="#fff"/><use href="#c71" fill="#fff"/><use href="#c72" fill="#fff"/><use href="#c73" fill="#000"/><use href="#c74" fill="#000"/><use href="#c75" fill="#000"/><use href="#c76" fill="#000"/><use href="#c77" fill="#000"/><use href="#c78" fill="#000"/><use href="#c79" fill="#000"/><use href="#c80" fill="#000"/><use href="#c81" fill="#000"/><use href="#c82" fill="#000"/><use href="#c83" fill="#000"/><use href="#c84" fill="#fff"/><use href="#c85" fill="#fff"/><use href="#c86" fill="#000"/><use href="#c87" fill="#fff"/><use href="#c88" fill="#fff"/><use href="#c89" fill="#fff"/><use href="#c90" fill="#000"/><use href="#c91" fill="#000"/><use href="#c92" fill="#fff"/><use href="#c93" fill="#fff"/><use href="#c94" fill="#000"/><use href="#c95" fill="#000"/><use href="#c96" fill="#fff"/><use href="#c97" fill="#fff"/><use href="#c98" fill="#fff"/><use href="#c99" fill="#fff"/><use href="#c100" fill="#000"/><use href="#c101" fill="#fff"/><use href="#c102" fill="#fff"/><use href="#c103" fill="#000"/><use href="#c104" fill="#fff"/><use href="#c105" fill="#000"/><use href="#c106" fill="#000"/><use href="#c107" fill="#000"/><use href="#c108" fill="#000"/><use href="#c109" fill="#000"/><use href="#c110" fill="#000"/><use href="#c111" fill="#000"/><use href="#c112" fill="#000"/><use href="#c113" fill="#000"/><use href="#c114" fill="#000"/><use href="#c115" fill="#000"/><use href="#c116" fill="#000"/><use href="#c117" fill="#000"/><use href="#c118" fill="#000"/><use href="#c119" fill="#000"/><use href="#c120" fill="#000"/><use href="#c121" fill="#000"/><use href="#c122" fill="#000"/><use href="#c123" fill="#000"/><use href="#c124" fill="#000"/><use href="#c125" fill="#000"/><use href="#c126" fill="#000"/><use href="#c127" fill="#000"/><use href="#c128" fill="#000"/><use href="#c129" fill="#000"/><use href="#c130" fill="#000"/><use href="#c131" fill="#000"/><use href="#c132" fill="#000"/><use href="#c133" fill="#000"/><use href="#c134" fill="#000"/><use href="#c135" fill="#000"/><use href="#c136" fill="#000"/><use href="#c137" fill="#000"/><use href="#c138" fill="#000"/><use href="#c139" fill="#000"/><use href="#c140" fill="#000"/><use href="#c141" fill="#000"/><use href="#c142" fill="#000"/><use href="#c143" fill="#000"/><use href="#c144" fill="#000"/><use href="#c145" fill="#fff"/><use href="#c146" fill="#000"/><use href="#c147" fill="#000"/></mask>
<mask id="dm2" maskUnits="userSpaceOnUse" x="-40" y="150" width="520" height="300"><rect x="-40" y="150" width="520" height="300" fill="#000"/><use href="#c0" fill="#fff"/><use href="#c1" fill="#fff"/><use href="#c2" fill="#fff"/><use href="#c3" fill="#fff"/><use href="#c4" fill="#fff"/><use href="#c5" fill="#fff"/><use href="#c6" fill="#fff"/><use href="#c7" fill="#fff"/><use href="#c8" fill="#fff"/><use href="#c9" fill="#fff"/><use href="#c10" fill="#fff"/><use href="#c11" fill="#fff"/><use href="#c12" fill="#fff"/><use href="#c13" fill="#fff"/><use href="#c14" fill="#fff"/><use href="#c15" fill="#fff"/><use href="#c16" fill="#fff"/><use href="#c17" fill="#fff"/><use href="#c18" fill="#fff"/><use href="#c19" fill="#fff"/><use href="#c20" fill="#000"/><use href="#c21" fill="#000"/><use href="#c22" fill="#000"/><use href="#c23" fill="#fff"/><use href="#c24" fill="#fff"/><use href="#c25" fill="#fff"/><use href="#c26" fill="#fff"/><use href="#c27" fill="#fff"/><use href="#c28" fill="#fff"/><use href="#c29" fill="#fff"/><use href="#c30" fill="#fff"/><use href="#c31" fill="#fff"/><use href="#c32" fill="#fff"/><use href="#c33" fill="#fff"/><use href="#c34" fill="#fff"/><use href="#c35" fill="#fff"/><use href="#c36" fill="#fff"/><use href="#c37" fill="#fff"/><use href="#c38" fill="#fff"/><use href="#c39" fill="#fff"/><use href="#c40" fill="#fff"/><use href="#c41" fill="#fff"/><use href="#c42" fill="#fff"/><use href="#c43" fill="#fff"/><use href="#c44" fill="#fff"/><use href="#c45" fill="#fff"/><use href="#c46" fill="#fff"/><use href="#c47" fill="#fff"/><use href="#c48" fill="#fff"/><use href="#c49" fill="#fff"/><use href="#c50" fill="#fff"/><use href="#c51" fill="#fff"/><use href="#c52" fill="#fff"/><use href="#c53" fill="#fff"/><use href="#c54" fill="#fff"/><use href="#c55" fill="#fff"/><use href="#c56" fill="#fff"/><use href="#c57" fill="#fff"/><use href="#c58" fill="#fff"/><use href="#c59" fill="#fff"/><use href="#c60" fill="#fff"/><use href="#c61" fill="#fff"/><use href="#c62" fill="#fff"/><use href="#c63" fill="#fff"/><use href="#c64" fill="#fff"/><use href="#c65" fill="#fff"/><use href="#c66" fill="#fff"/><use href="#c67" fill="#fff"/><use href="#c68" fill="#fff"/><use href="#c69" fill="#fff"/><use href="#c70" fill="#fff"/><use href="#c71" fill="#fff"/><use href="#c72" fill="#fff"/><use href="#c73" fill="#fff"/><use href="#c74" fill="#fff"/><use href="#c75" fill="#fff"/><use href="#c76" fill="#fff"/><use href="#c77" fill="#fff"/><use href="#c78" fill="#fff"/><use href="#c79" fill="#fff"/><use href="#c80" fill="#fff"/><use href="#c81" fill="#fff"/><use href="#c82" fill="#fff"/><use href="#c83" fill="#fff"/><use href="#c84" fill="#fff"/><use href="#c85" fill="#fff"/><use href="#c86" fill="#000"/><use href="#c87" fill="#fff"/><use href="#c88" fill="#fff"/><use href="#c89" fill="#fff"/><use href="#c90" fill="#fff"/><use href="#c91" fill="#fff"/><use href="#c92" fill="#fff"/><use href="#c93" fill="#fff"/><use href="#c94" fill="#fff"/><use href="#c95" fill="#000"/><use href="#c96" fill="#fff"/><use href="#c97" fill="#fff"/><use href="#c98" fill="#fff"/><use href="#c99" fill="#fff"/><use href="#c100" fill="#000"/><use href="#c101" fill="#fff"/><use href="#c102" fill="#fff"/><use href="#c103" fill="#fff"/><use href="#c104" fill="#fff"/><use href="#c105" fill="#fff"/><use href="#c106" fill="#fff"/><use href="#c107" fill="#fff"/><use href="#c108" fill="#fff"/><use href="#c109" fill="#fff"/><use href="#c110" fill="#fff"/><use href="#c111" fill="#fff"/><use href="#c112" fill="#fff"/><use href="#c113" fill="#fff"/><use href="#c114" fill="#fff"/><use href="#c115" fill="#fff"/><use href="#c116" fill="#fff"/><use href="#c117" fill="#fff"/><use href="#c118" fill="#fff"/><use href="#c119" fill="#fff"/><use href="#c120" fill="#fff"/><use href="#c121" fill="#fff"/><use href="#c122" fill="#fff"/><use href="#c123" fill="#000"/><use href="#c124" fill="#000"/><use href="#c125" fill="#000"/><use href="#c126" fill="#fff"/><use href="#c127" fill="#fff"/><use href="#c128" fill="#000"/><use href="#c129" fill="#fff"/><use href="#c130" fill="#fff"/><use href="#c131" fill="#fff"/><use href="#c132" fill="#fff"/><use href="#c133" fill="#fff"/><use href="#c134" fill="#fff"/><use href="#c135" fill="#fff"/><use href="#c136" fill="#fff"/><use href="#c137" fill="#fff"/><use href="#c138" fill="#fff"/><use href="#c139" fill="#fff"/><use href="#c140" fill="#fff"/><use href="#c141" fill="#fff"/><use href="#c142" fill="#fff"/><use href="#c143" fill="#fff"/><use href="#c144" fill="#fff"/><use href="#c145" fill="#fff"/><use href="#c146" fill="#fff"/><use href="#c147" fill="#fff"/></mask>
</defs>
<rect width="850" height="600" fill="#fff"/>
<text class="title" x="16.5" y="39.8" textLength="320" lengthAdjust="spacingAndGlyphs">GDP per capita, 1820 to 2018</text>
<text class="sub" x="16.5" y="66.4" textLength="732" lengthAdjust="spacingAndGlyphs">GDP per capita is a country's gross domestic product divided by its population. This data is adjusted for inflation</text>
<text class="sub" x="16.5" y="83.6" textLength="320.5" lengthAdjust="spacingAndGlyphs">and differences in living costs between countries.</text>
<rect x="769" y="16" width="65" height="36" fill="#002147"/>
<rect x="769" y="49.3" width="65" height="2.7" fill="#ce261e"/>
<text class="logo" x="801.5" y="30.7" text-anchor="middle" textLength="55.5" lengthAdjust="spacingAndGlyphs">Our World</text>
<text class="logo" x="801.5" y="42.7" text-anchor="middle" textLength="37" lengthAdjust="spacingAndGlyphs">in Data</text>
<text class="yr" x="215.6" y="181.8" text-anchor="middle" textLength="45" lengthAdjust="spacingAndGlyphs">1820</text>
<text class="yr" x="634.4" y="181.8" text-anchor="middle" textLength="45" lengthAdjust="spacingAndGlyphs">2018</text>
<g class="c">
<use href="#L" class="n"/>
<g mask="url(#lm)">
<use href="#c0" fill="#ccebc5"/>
<use href="#c1" fill="#a8ddb5"/>
<use href="#c2" fill="#ccebc5"/>
<use href="#c3" class="n"/>
<use href="#c4" class="n"/>
<use href="#c5" class="n"/>
<use href="#c6" class="n"/>
<use href="#c7" class="n"/>
<use href="#c8" class="n"/>
<use href="#c9" class="n"/>
<use href="#c10" fill="#f0f9e8"/>
<use href="#c11" fill="#ccebc5"/>
<use href="#c12" fill="#f0f9e8"/>
<use href="#c13" fill="#ccebc5"/>
<use href="#c14" class="n"/>
<use href="#c15" class="n"/>
<use href="#c16" fill="#f0f9e8"/>
<use href="#c17" class="n"/>
<use href="#c18" fill="#f0f9e8"/>
<use href="#c19" fill="#f0f9e8"/>
<use href="#c20" class="n"/>
<use href="#c21" class="n"/>
<use href="#c22" class="n"/>
<use href="#c23" class="n"/>
<use href="#c24" fill="#ccebc5"/>
<use href="#c25" fill="#ccebc5"/>
<use href="#c26" fill="#ccebc5"/>
<use href="#c27" class="n"/>
<use href="#c28" class="n"/>
<use href="#c29" class="n"/>
<use href="#c30" class="n"/>
<use href="#c31" class="n"/>
<use href="#c32" class="n"/>
<use href="#c33" fill="#f0f9e8"/>
<use href="#c34" fill="#a8ddb5"/>
<use href="#c35" fill="#a8ddb5"/>
<use href="#c36" fill="#a8ddb5"/>
<use href="#c37" fill="#a8ddb5"/>
<use href="#c38" class="n"/>
<use href="#c39" fill="#ccebc5"/>
<use href="#c40" fill="#ccebc5"/>
<use href="#c41" fill="#ccebc5"/>
<use href="#c42" fill="#a8ddb5"/>
<use href="#c43" fill="#ccebc5"/>
<use href="#c44" fill="#a8ddb5"/>
<use href="#c45" class="n"/>
<use href="#c46" class="n"/>
<use href="#c47" class="n"/>
<use href="#c48" class="n"/>
<use href="#c49" class="n"/>
<use href="#c50" class="n"/>
<use href="#c51" class="n"/>
<use href="#c52" class="n"/>
<use href="#c53" class="n"/>
<use href="#c54" class="n"/>
<use href="#c55" class="n"/>
<use href="#c56" class="n"/>
<use href="#c57" class="n"/>
<use href="#c58" fill="#f0f9e8"/>
<use href="#c59" class="n"/>
<use href="#c60" fill="#f0f9e8"/>
<use href="#c61" class="n"/>
<use href="#c62" class="n"/>
<use href="#c63" class="n"/>
<use href="#c64" class="n"/>
<use href="#c65" class="n"/>
<use href="#c66" fill="#f0f9e8"/>
<use href="#c67" fill="#f0f9e8"/>
<use href="#c68" fill="#a8ddb5"/>
<use href="#c69" fill="#a8ddb5"/>
<use href="#c70" fill="#f0f9e8"/>
<use href="#c71" fill="#f0f9e8"/>
<use href="#c72" fill="#f0f9e8"/>
<use href="#c73" class="n"/>
<use href="#c74" class="n"/>
<use href="#c75" class="n"/>
<use href="#c76" class="n"/>
<use href="#c77" class="n"/>
<use href="#c78" class="n"/>
<use href="#c79" class="n"/>
<use href="#c80" class="n"/>
<use href="#c81" class="n"/>
<use href="#c82" class="n"/>
<use href="#c83" class="n"/>
<use href="#c84" fill="#f0f9e8"/>
<use href="#c85" fill="#f0f9e8"/>
<use href="#c86" class="n"/>
<use href="#c87" fill="#f0f9e8"/>
<use href="#c88" fill="#f0f9e8"/>
<use href="#c89" fill="#f0f9e8"/>
<use href="#c90" class="n"/>
<use href="#c91" class="n"/>
<use href="#c92" fill="#f0f9e8"/>
<use href="#c93" fill="#f0f9e8"/>
<use href="#c94" class="n"/>
<use href="#c95" class="n"/>
<use href="#c96" fill="#f0f9e8"/>
<use href="#c97" fill="#f0f9e8"/>
<use href="#c98" fill="#f0f9e8"/>
<use href="#c99" fill="#f0f9e8"/>
<use href="#c100" class="n"/>
<use href="#c101" fill="#f0f9e8"/>
<use href="#c102" fill="#f0f9e8"/>
<use href="#c103" class="n"/>
<use href="#c104" fill="#f0f9e8"/>
<use href="#c105" class="n"/>
<use href="#c106" class="n"/>
<use href="#c107" class="n"/>
<use href="#c108" class="n"/>
<use href="#c109" class="n"/>
<use href="#c110" class="n"/>
<use href="#c111" class="n"/>
<use href="#c112" class="n"/>
<use href="#c113" class="n"/>
<use href="#c114" class="n"/>
<use href="#c115" class="n"/>
<use href="#c116" class="n"/>
<use href="#c117" class="n"/>
<use href="#c118" class="n"/>
<use href="#c119" class="n"/>
<use href="#c120" class="n"/>
<use href="#c121" class="n"/>
<use href="#c122" class="n"/>
<use href="#c123" class="n"/>
<use href="#c124" class="n"/>
<use href="#c125" class="n"/>
<use href="#c126" class="n"/>
<use href="#c127" class="n"/>
<use href="#c128" class="n"/>
<use href="#c129" class="n"/>
<use href="#c130" class="n"/>
<use href="#c131" class="n"/>
<use href="#c132" class="n"/>
<use href="#c133" class="n"/>
<use href="#c134" class="n"/>
<use href="#c135" class="n"/>
<use href="#c136" class="n"/>
<use href="#c137" class="n"/>
<use href="#c138" class="n"/>
<use href="#c139" class="n"/>
<use href="#c140" class="n"/>
<use href="#c141" class="n"/>
<use href="#c142" class="n"/>
<use href="#c143" class="n"/>
<use href="#c144" class="n"/>
<use href="#c145" fill="#ccebc5"/>
<use href="#c146" class="n"/>
<use href="#c147" class="n"/>
</g>
<use href="#L" fill="none" mask="url(#dm1)"/>
<use href="#i0" class="n"/>
<use href="#i1" class="n"/>
<use href="#i2" fill="#a8ddb5"/>
<use href="#i3" fill="#ccebc5"/>
<use href="#i4" class="n"/>
<use href="#i5" fill="#ccebc5"/>
<use href="#i6" class="n"/>
<use href="#i7" class="n"/>
<use href="#i8" class="n"/>
<use href="#i9" class="n"/>
<use href="#i10" class="n"/>
<use href="#i11" class="n"/>
<use href="#i12" class="n"/>
<use href="#i13" fill="#a8ddb5"/>
<use href="#i14" fill="#a8ddb5"/>
<use href="#i15" fill="#ccebc5"/>
<use href="#i16" class="n"/>
<use href="#i17" class="n"/>
<use href="#i18" fill="#a8ddb5"/>
<use href="#i19" class="n"/>
<use href="#i20" fill="#ccebc5"/>
<use href="#i21" fill="#ccebc5"/>
<use href="#i22" fill="#ccebc5"/>
<use href="#i23" fill="#ccebc5"/>
<use href="#i24" fill="#f0f9e8"/>
<use href="#i25" fill="#f0f9e8"/>
<use href="#i26" fill="#f0f9e8"/>
<use href="#i27" fill="#f0f9e8"/>
<use href="#i28" fill="#f0f9e8"/>
<use href="#i29" fill="#f0f9e8"/>
<use href="#i30" fill="#f0f9e8"/>
<use href="#i31" fill="#f0f9e8"/>
<use href="#i32" fill="#f0f9e8"/>
<use href="#i33" fill="#f0f9e8"/>
<use href="#i34" fill="#f0f9e8"/>
<use href="#i35" fill="#f0f9e8"/>
<use href="#i36" fill="#f0f9e8"/>
<use href="#i37" fill="#f0f9e8"/>
<use href="#i38" fill="#f0f9e8"/>
<use href="#i39" fill="#f0f9e8"/>
<use href="#i40" fill="#f0f9e8"/>
<use href="#i41" class="n"/>
<use href="#i42" fill="#f0f9e8"/>
<use href="#i43" fill="#f0f9e8"/>
<use href="#i44" fill="#f0f9e8"/>
<use href="#i45" fill="#f0f9e8"/>
<use href="#i46" class="n"/>
<use href="#i47" class="n"/>
<use href="#i48" class="n"/>
<use href="#i49" class="n"/>
<use href="#i50" class="n"/>
<use href="#i51" class="n"/>
<use href="#i52" class="n"/>
<use href="#i53" class="n"/>
<use href="#i54" class="n"/>
<use href="#i55" class="n"/>
<use href="#i56" class="n"/>
<use href="#i57" class="n"/>
<use href="#i58" class="n"/>
<use href="#i59" fill="#f0f9e8"/>
<use href="#i60" fill="#f0f9e8"/>
<use href="#i61" fill="#f0f9e8"/>
<use href="#i62" fill="#f0f9e8"/>
<use href="#i63" fill="#f0f9e8"/>
<use href="#i64" class="n"/>
<use href="#i65" class="n"/>
<use href="#i66" fill="#ccebc5"/>
<use href="#i67" fill="#ccebc5"/>
<use href="#i68" fill="#ccebc5"/>
<use href="#i69" fill="#ccebc5"/>
<use href="#i70" fill="#ccebc5"/>
<use href="#i71" fill="#ccebc5"/>
<use href="#i72" fill="#ccebc5"/>
<use href="#i73" fill="#ccebc5"/>
<use href="#i74" fill="#ccebc5"/>
<use href="#i75" fill="#ccebc5"/>
<use href="#i76" fill="#ccebc5"/>
<use href="#i77" fill="#ccebc5"/>
<use href="#i78" fill="#ccebc5"/>
<use href="#i79" fill="#ccebc5"/>
<use href="#i80" fill="#a8ddb5"/>
<use href="#i81" fill="#a8ddb5"/>
<use href="#i82" fill="#a8ddb5"/>
<use href="#i83" fill="#a8ddb5"/>
<use href="#i84" fill="#a8ddb5"/>
<use href="#i85" fill="#a8ddb5"/>
<use href="#i86" fill="#a8ddb5"/>
<use href="#i87" class="n"/>
<use href="#i88" class="n"/>
<use href="#i89" class="n"/>
<use href="#i90" fill="#ccebc5"/>
<use href="#i91" class="n"/>
<use href="#i92" class="n"/>
<use href="#i93" class="n"/>
<use href="#i94" class="n"/>
<use href="#i95" fill="#ccebc5"/>
<use href="#i96" fill="#ccebc5"/>
<use href="#i97" fill="#ccebc5"/>
<use href="#i98" fill="#ccebc5"/>
<use href="#i99" fill="#ccebc5"/>
<use href="#i100" fill="#ccebc5"/>
<use href="#i101" class="n"/>
<use href="#i102" class="n"/>
<use href="#i103" class="n"/>
</g>
<g class="c" transform="translate(419.0,0)">
<use href="#L" class="n"/>
<g mask="url(#lm)">
<use href="#c0" fill="#2b8cbe"/>
<use href="#c1" fill="#08589e"/>
<use href="#c2" fill="#4eb3d3"/>
<use href="#c3" fill="#7bccc4"/>
<use href="#c4" fill="#7bccc4"/>
<use href="#c5" fill="#7bccc4"/>
<use href="#c6" fill="#7bccc4"/>
<use href="#c7" fill="#a8ddb5"/>
<use href="#c8" fill="#4eb3d3"/>
<use href="#c9" fill="#2b8cbe"/>
<use href="#c10" fill="#4eb3d3"/>
<use href="#c11" fill="#4eb3d3"/>
<use href="#c12" fill="#2b8cbe"/>
<use href="#c13" fill="#4eb3d3"/>
<use href="#c14" fill="#7bccc4"/>
<use href="#c15" fill="#7bccc4"/>
<use href="#c16" fill="#4eb3d3"/>
<use href="#c17" fill="#4eb3d3"/>
<use href="#c18" fill="#4eb3d3"/>
<use href="#c19" fill="#7bccc4"/>
<use href="#c20" class="n"/>
<use href="#c21" class="n"/>
<use href="#c22" class="n"/>
<use href="#c23" fill="#2b8cbe"/>
<use href="#c24" fill="#08589e"/>
<use href="#c25" fill="#2b8cbe"/>
<use href="#c26" fill="#2b8cbe"/>
<use href="#c27" fill="#2b8cbe"/>
<use href="#c28" fill="#2b8cbe"/>
<use href="#c29" fill="#2b8cbe"/>
<use href="#c30" fill="#4eb3d3"/>
<use href="#c31" fill="#7bccc4"/>
<use href="#c32" fill="#7bccc4"/>
<use href="#c33" fill="#2b8cbe"/>
<use href="#c34" fill="#2b8cbe"/>
<use href="#c35" fill="#2b8cbe"/>
<use href="#c36" fill="#2b8cbe"/>
<use href="#c37" fill="#2b8cbe"/>
<use href="#c38" fill="#08589e"/>
<use href="#c39" fill="#2b8cbe"/>
<use href="#c40" fill="#2b8cbe"/>
<use href="#c41" fill="#2b8cbe"/>
<use href="#c42" fill="#08589e"/>
<use href="#c43" fill="#2b8cbe"/>
<use href="#c44" fill="#2b8cbe"/>
<use href="#c45" fill="#2b8cbe"/>
<use href="#c46" fill="#2b8cbe"/>
<use href="#c47" fill="#2b8cbe"/>
<use href="#c48" fill="#2b8cbe"/>
<use href="#c49" fill="#4eb3d3"/>
<use href="#c50" fill="#2b8cbe"/>
<use href="#c51" fill="#2b8cbe"/>
<use href="#c52" fill="#4eb3d3"/>
<use href="#c53" fill="#4eb3d3"/>
<use href="#c54" fill="#4eb3d3"/>
<use href="#c55" fill="#4eb3d3"/>
<use href="#c56" fill="#4eb3d3"/>
<use href="#c57" fill="#2b8cbe"/>
<use href="#c58" fill="#2b8cbe"/>
<use href="#c59" fill="#2b8cbe"/>
<use href="#c60" fill="#4eb3d3"/>
<use href="#c61" fill="#4eb3d3"/>
<use href="#c62" fill="#2b8cbe"/>
<use href="#c63" fill="#4eb3d3"/>
<use href="#c64" fill="#4eb3d3"/>
<use href="#c65" fill="#4eb3d3"/>
<use href="#c66" fill="#4eb3d3"/>
<use href="#c67" fill="#4eb3d3"/>
<use href="#c68" fill="#a8ddb5"/>
<use href="#c69" fill="#4eb3d3"/>
<use href="#c70" fill="#2b8cbe"/>
<use href="#c71" fill="#7bccc4"/>
<use href="#c72" fill="#08589e"/>
<use href="#c73" fill="#a8ddb5"/>
<use href="#c74" fill="#08589e"/>
<use href="#c75" fill="#08589e"/>
<use href="#c76" fill="#08589e"/>
<use href="#c77" fill="#08589e"/>
<use href="#c78" fill="#4eb3d3"/>
<use href="#c79" fill="#4eb3d3"/>
<use href="#c80" fill="#7bccc4"/>
<use href="#c81" fill="#a8ddb5"/>
<use href="#c82" fill="#ccebc5"/>
<use href="#c83" fill="#7bccc4"/>
<use href="#c84" fill="#7bccc4"/>
<use href="#c85" fill="#a8ddb5"/>
<use href="#c86" class="n"/>
<use href="#c87" fill="#a8ddb5"/>
<use href="#c88" fill="#7bccc4"/>
<use href="#c89" fill="#4eb3d3"/>
<use href="#c90" fill="#7bccc4"/>
<use href="#c91" fill="#a8ddb5"/>
<use href="#c92" fill="#7bccc4"/>
<use href="#c93" fill="#2b8cbe"/>
<use href="#c94" fill="#08589e"/>
<use href="#c95" class="n"/>
<use href="#c96" fill="#ccebc5"/>
<use href="#c97" fill="#2b8cbe"/>
<use href="#c98" fill="#4eb3d3"/>
<use href="#c99" fill="#7bccc4"/>
<use href="#c100" class="n"/>
<use href="#c101" fill="#4eb3d3"/>
<use href="#c102" fill="#4eb3d3"/>
<use href="#c103" fill="#4eb3d3"/>
<use href="#c104" fill="#4eb3d3"/>
<use href="#c105" fill="#a8ddb5"/>
<use href="#c106" fill="#ccebc5"/>
<use href="#c107" fill="#a8ddb5"/>
<use href="#c108" fill="#a8ddb5"/>
<use href="#c109" fill="#ccebc5"/>
<use href="#c110" fill="#ccebc5"/>
<use href="#c111" fill="#ccebc5"/>
<use href="#c112" fill="#f0f9e8"/>
<use href="#c113" fill="#a8ddb5"/>
<use href="#c114" fill="#a8ddb5"/>
<use href="#c115" fill="#ccebc5"/>
<use href="#c116" fill="#a8ddb5"/>
<use href="#c117" fill="#ccebc5"/>
<use href="#c118" fill="#f0f9e8"/>
<use href="#c119" fill="#7bccc4"/>
<use href="#c120" fill="#a8ddb5"/>
<use href="#c121" fill="#ccebc5"/>
<use href="#c122" fill="#f0f9e8"/>
<use href="#c123" class="n"/>
<use href="#c124" class="n"/>
<use href="#c125" class="n"/>
<use href="#c126" fill="#a8ddb5"/>
<use href="#c127" fill="#ccebc5"/>
<use href="#c128" class="n"/>
<use href="#c129" fill="#a8ddb5"/>
<use href="#c130" fill="#a8ddb5"/>
<use href="#c131" fill="#a8ddb5"/>
<use href="#c132" fill="#f0f9e8"/>
<use href="#c133" fill="#a8ddb5"/>
<use href="#c134" fill="#f0f9e8"/>
<use href="#c135" fill="#7bccc4"/>
<use href="#c136" fill="#4eb3d3"/>
<use href="#c137" fill="#2b8cbe"/>
<use href="#c138" fill="#7bccc4"/>
<use href="#c139" fill="#a8ddb5"/>
<use href="#c140" fill="#ccebc5"/>
<use href="#c141" fill="#ccebc5"/>
<use href="#c142" fill="#ccebc5"/>
<use href="#c143" fill="#4eb3d3"/>
<use href="#c144" fill="#7bccc4"/>
<use href="#c145" fill="#4eb3d3"/>
<use href="#c146" fill="#a8ddb5"/>
<use href="#c147" fill="#7bccc4"/>
</g>
<use href="#L" fill="none" mask="url(#dm2)"/>
<use href="#i0" fill="#2b8cbe"/>
<use href="#i1" fill="#ccebc5"/>
<use href="#i2" fill="#2b8cbe"/>
<use href="#i3" fill="#08589e"/>
<use href="#i4" fill="#2b8cbe"/>
<use href="#i5" fill="#08589e"/>
<use href="#i6" fill="#2b8cbe"/>
<use href="#i7" fill="#2b8cbe"/>
<use href="#i8" fill="#2b8cbe"/>
<use href="#i9" fill="#2b8cbe"/>
<use href="#i10" fill="#2b8cbe"/>
<use href="#i11" fill="#2b8cbe"/>
<use href="#i12" fill="#2b8cbe"/>
<use href="#i13" fill="#2b8cbe"/>
<use href="#i14" fill="#2b8cbe"/>
<use href="#i15" fill="#2b8cbe"/>
<use href="#i16" fill="#2b8cbe"/>
<use href="#i17" fill="#2b8cbe"/>
<use href="#i18" fill="#2b8cbe"/>
<use href="#i19" fill="#2b8cbe"/>
<use href="#i20" fill="#2b8cbe"/>
<use href="#i21" fill="#2b8cbe"/>
<use href="#i22" fill="#2b8cbe"/>
<use href="#i23" fill="#2b8cbe"/>
<use href="#i24" fill="#2b8cbe"/>
<use href="#i25" fill="#4eb3d3"/>
<use href="#i26" fill="#4eb3d3"/>
<use href="#i27" fill="#7bccc4"/>
<use href="#i28" fill="#7bccc4"/>
<use href="#i29" fill="#7bccc4"/>
<use href="#i30" fill="#7bccc4"/>
<use href="#i31" fill="#7bccc4"/>
<use href="#i32" fill="#7bccc4"/>
<use href="#i33" fill="#7bccc4"/>
<use href="#i34" fill="#4eb3d3"/>
<use href="#i35" fill="#4eb3d3"/>
<use href="#i36" fill="#4eb3d3"/>
<use href="#i37" fill="#4eb3d3"/>
<use href="#i38" fill="#4eb3d3"/>
<use href="#i39" fill="#4eb3d3"/>
<use href="#i40" fill="#4eb3d3"/>
<use href="#i41" class="n"/>
<use href="#i42" fill="#4eb3d3"/>
<use href="#i43" fill="#4eb3d3"/>
<use href="#i44" fill="#4eb3d3"/>
<use href="#i45" fill="#4eb3d3"/>
<use href="#i46" class="n"/>
<use href="#i47" class="n"/>
<use href="#i48" class="n"/>
<use href="#i49" class="n"/>
<use href="#i50" class="n"/>
<use href="#i51" class="n"/>
<use href="#i52" class="n"/>
<use href="#i53" class="n"/>
<use href="#i54" class="n"/>
<use href="#i55" class="n"/>
<use href="#i56" class="n"/>
<use href="#i57" class="n"/>
<use href="#i58" class="n"/>
<use href="#i59" fill="#2b8cbe"/>
<use href="#i60" fill="#2b8cbe"/>
<use href="#i61" fill="#2b8cbe"/>
<use href="#i62" fill="#2b8cbe"/>
<use href="#i63" fill="#2b8cbe"/>
<use href="#i64" fill="#a8ddb5"/>
<use href="#i65" class="n"/>
<use href="#i66" fill="#2b8cbe"/>
<use href="#i67" fill="#2b8cbe"/>
<use href="#i68" fill="#2b8cbe"/>
<use href="#i69" fill="#2b8cbe"/>
<use href="#i70" fill="#2b8cbe"/>
<use href="#i71" fill="#2b8cbe"/>
<use href="#i72" fill="#2b8cbe"/>
<use href="#i73" fill="#2b8cbe"/>
<use href="#i74" fill="#2b8cbe"/>
<use href="#i75" fill="#2b8cbe"/>
<use href="#i76" fill="#2b8cbe"/>
<use href="#i77" fill="#2b8cbe"/>
<use href="#i78" fill="#2b8cbe"/>
<use href="#i79" fill="#2b8cbe"/>
<use href="#i80" fill="#08589e"/>
<use href="#i81" fill="#08589e"/>
<use href="#i82" fill="#08589e"/>
<use href="#i83" fill="#08589e"/>
<use href="#i84" fill="#08589e"/>
<use href="#i85" fill="#08589e"/>
<use href="#i86" fill="#08589e"/>
<use href="#i87" fill="#7bccc4"/>
<use href="#i88" fill="#ccebc5"/>
<use href="#i89" fill="#4eb3d3"/>
<use href="#i90" fill="#7bccc4"/>
<use href="#i91" fill="#2b8cbe"/>
<use href="#i92" fill="#2b8cbe"/>
<use href="#i93" class="n"/>
<use href="#i94" class="n"/>
<use href="#i95" fill="#7bccc4"/>
<use href="#i96" fill="#7bccc4"/>
<use href="#i97" fill="#7bccc4"/>
<use href="#i98" fill="#2b8cbe"/>
<use href="#i99" fill="#2b8cbe"/>
<use href="#i100" fill="#2b8cbe"/>
<use href="#i101" fill="#2b8cbe"/>
<use href="#i102" class="n"/>
<use href="#i103" fill="#a8ddb5"/>
</g>
<g id="legend">
<text class="leg" x="160.5" y="510.8" textLength="46.5" lengthAdjust="spacingAndGlyphs">No data</text>
<rect x="160.5" y="518" width="47" height="10" fill="url(#hatch)" stroke="#ccc" stroke-width="0.6"/>
<rect x="228" y="518" width="60" height="10" fill="#f0f9e8"/>
<rect x="288" y="518" width="60" height="10" fill="#ccebc5"/>
<rect x="348" y="518" width="60" height="10" fill="#a8ddb5"/>
<rect x="408" y="518" width="60" height="10" fill="#7bccc4"/>
<rect x="468" y="518" width="60" height="10" fill="#4eb3d3"/>
<rect x="528" y="518" width="60" height="10" fill="#2b8cbe"/>
<path d="M588,518H644L649,523L644,528H588Z" fill="#08589e"/>
<path d="M228,518H644L649,523L644,528H228Z" fill="none" stroke="#999" stroke-width="0.5"/>
<path d="M288,515V528M348,515V528M408,515V528M468,515V528M528,515V528M588,515V528" stroke="#999" stroke-width="0.6" fill="none"/>
<text class="leg" x="220.4" y="510.8" textLength="15" lengthAdjust="spacingAndGlyphs">$0</text>
<text class="leg" x="288" y="510.8" text-anchor="middle" textLength="41" lengthAdjust="spacingAndGlyphs">$1,000</text>
<text class="leg" x="348" y="510.8" text-anchor="middle" textLength="41" lengthAdjust="spacingAndGlyphs">$2,000</text>
<text class="leg" x="408" y="510.8" text-anchor="middle" textLength="41" lengthAdjust="spacingAndGlyphs">$5,000</text>
<text class="leg" x="468" y="510.8" text-anchor="middle" textLength="48.8" lengthAdjust="spacingAndGlyphs">$10,000</text>
<text class="leg" x="528" y="510.8" text-anchor="middle" textLength="48.8" lengthAdjust="spacingAndGlyphs">$20,000</text>
<text class="leg" x="588" y="510.8" text-anchor="middle" textLength="48.8" lengthAdjust="spacingAndGlyphs">$50,000</text>
</g>
<text class="foot" x="16.5" y="561" font-weight="bold" textLength="71" lengthAdjust="spacingAndGlyphs">Data source:</text>
<text class="foot" x="91.3" y="561" textLength="322.5" lengthAdjust="spacingAndGlyphs">Bolt and van Zanden – Maddison Project Database 2023</text>
<text class="foot" x="16.5" y="580.6" font-weight="bold" textLength="31" lengthAdjust="spacingAndGlyphs">Note:</text>
<text class="foot" x="51.8" y="580.6" textLength="312.4" lengthAdjust="spacingAndGlyphs">This data is expressed in international-$ at 2011 prices.</text>
<text class="foot" x="830.3" y="561" text-anchor="end" textLength="269" lengthAdjust="spacingAndGlyphs">OurWorldinData.org/economic-growth | CC BY</text>
</svg>
</body>
</html>
